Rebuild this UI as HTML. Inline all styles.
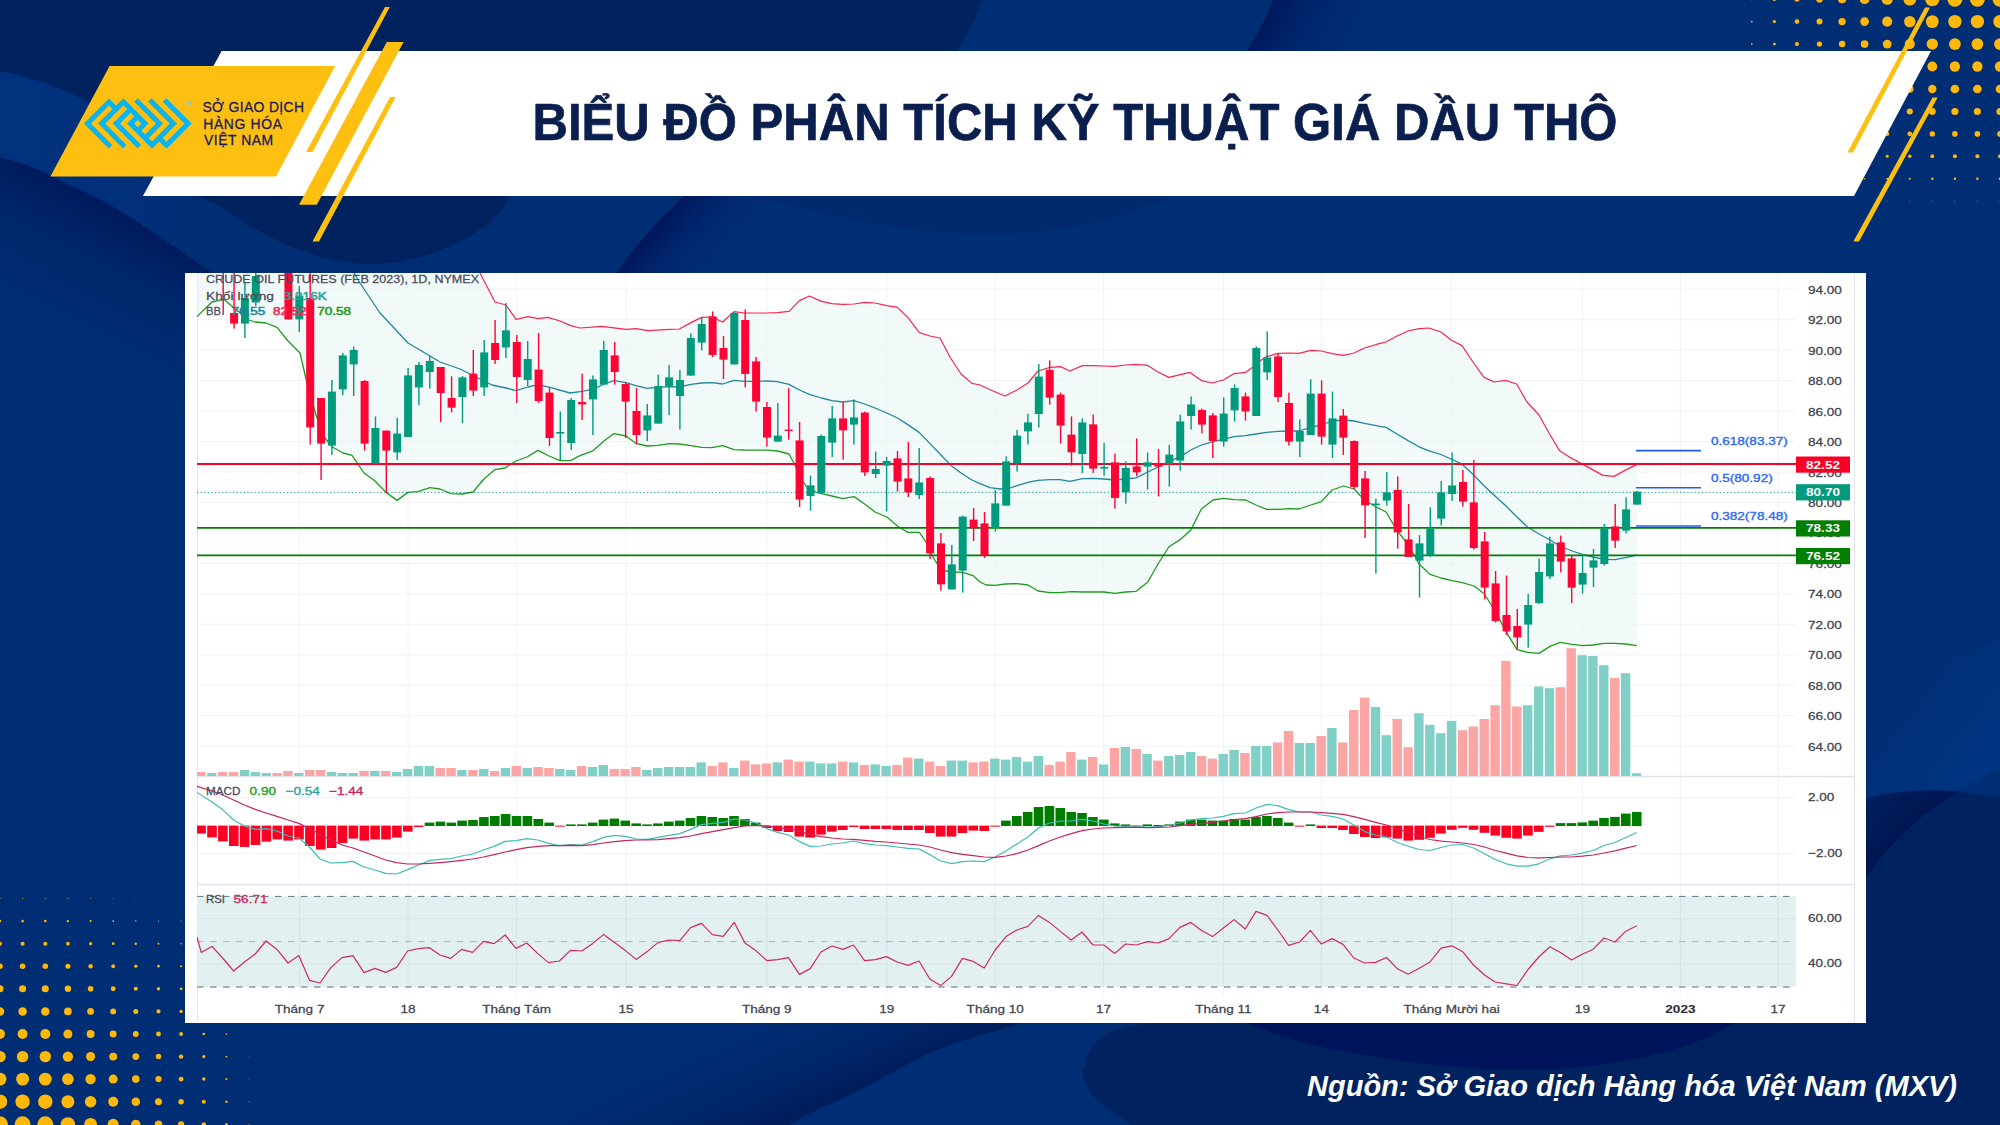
<!DOCTYPE html>
<html lang="vi"><head><meta charset="utf-8"><title>Biểu đồ phân tích kỹ thuật giá dầu thô</title>
<style>html,body{margin:0;padding:0;background:#002e74;}body{width:2000px;height:1125px;overflow:hidden;position:relative;}svg{display:block;position:absolute;left:0;top:0;}text{white-space:pre;}</style>
</head><body>
<svg width="2000" height="1125" viewBox="0 0 2000 1125">
<defs>
<linearGradient id="gwA" gradientUnits="userSpaceOnUse" x1="0" y1="0" x2="210" y2="0"><stop offset="0" stop-color="#00327e"/><stop offset="0.55" stop-color="#00307a"/><stop offset="1" stop-color="#002e74"/></linearGradient>
<linearGradient id="gwB" gradientUnits="userSpaceOnUse" x1="107" y1="203" x2="35" y2="340"><stop offset="0" stop-color="#001a5d"/><stop offset="0.4" stop-color="#002468" stop-opacity="0.7"/><stop offset="1" stop-color="#002e74" stop-opacity="0"/></linearGradient>
<linearGradient id="gwL" gradientUnits="userSpaceOnUse" x1="1880" y1="715" x2="1990" y2="800"><stop offset="0" stop-color="#002e74"/><stop offset="1" stop-color="#003684"/></linearGradient>
<linearGradient id="gwW" gradientUnits="userSpaceOnUse" x1="1925" y1="812" x2="1880" y2="770"><stop offset="0" stop-color="#001552"/><stop offset="1" stop-color="#00215e"/></linearGradient>
<linearGradient id="gwS" gradientUnits="userSpaceOnUse" x1="905" y1="1066" x2="858" y2="958"><stop offset="0" stop-color="#001d5c"/><stop offset="0.5" stop-color="#00266a" stop-opacity="0.55"/><stop offset="1" stop-color="#002e74" stop-opacity="0"/></linearGradient>
<linearGradient id="gwT" gradientUnits="userSpaceOnUse" x1="1258" y1="26" x2="1365" y2="82"><stop offset="0" stop-color="#00175c"/><stop offset="0.35" stop-color="#00226a" stop-opacity="0.7"/><stop offset="1" stop-color="#002e74" stop-opacity="0"/></linearGradient>
<linearGradient id="gwC" gradientUnits="userSpaceOnUse" x1="650" y1="234" x2="712" y2="290"><stop offset="0" stop-color="#00175c"/><stop offset="0.35" stop-color="#00226a" stop-opacity="0.7"/><stop offset="1" stop-color="#002e74" stop-opacity="0"/></linearGradient>
<clipPath id="cpMain"><rect x="197" y="273" width="1599" height="503"/></clipPath>
<clipPath id="cpMacd"><rect x="197" y="777" width="1599" height="107"/></clipPath>
<clipPath id="cpRsi"><rect x="197" y="885" width="1599" height="110"/></clipPath>
</defs>
<rect width="2000" height="1125" fill="#002e74"/>
<path d="M0,0 H982 C976,18 968,35 956,52 L940,80 L905,196 L509,196 C502,212 492,222 480,229.6 C465,240 455,244 448,247 C435,253 425,256 416,258 C405,261 395,263 384,263 C372,264 362,264 352,263 C340,261 330,259 320,256.8 C308,253 298,250 288,245.6 C276,240 266,235 256,229.6 C244,223 234,216 224,209 C214,203 205,199 198,196 C180,170 140,130 87,101 C60,88 30,76 0,71.5 Z" fill="#00235f"/>
<path d="M0,71.5 C30,76 60,88 87,101 C140,130 180,170 198,196 L260,300 L235,290 C224,281 212,272 200,264 C188,256 175,247 160,237 C144,226 126,214 107,203 C90,194 72,186 53,176.7 C38,169 20,162 0,157.6 Z" fill="url(#gwA)"/>
<path d="M0,157.6 C20,162 38,169 53,176.7 C72,186 90,194 107,203 C126,214 144,226 160,237 C175,247 188,256 200,264 C212,272 224,281 235,290 L260,310 L260,460 L0,460 Z" fill="url(#gwB)"/>
<path d="M760,196 C850,225 950,236 1000,234 C1080,232 1130,215 1170,196 Z" fill="#002566" opacity="0.45"/>
<path d="M616,273 C636,245 658,220 684,196 L840,196 L840,273 Z" fill="url(#gwC)"/>
<path d="M1246,52 C1258,34 1267,17 1273,0 L1420,0 L1420,52 Z" fill="url(#gwT)"/>
<path d="M1085,1068 C1086,1048 1100,1033 1125,1027 C1150,1022 1180,1021 1210,1018 L1866,1015 L1866,798 C1900,789 1950,789 2000,797 L2000,1125 L1132,1125 C1100,1105 1080,1090 1083,1066 Z" fill="#00235f"/>
<path d="M1240,1020 C1300,1050 1450,1075 1560,1069 C1650,1062 1710,1042 1738,1020 Z" fill="#00105a" opacity="0.75"/>
<path d="M2000,768 C1980,778 1965,786 1955,792.6 C1940,803 1925,814 1913,825 C1895,841 1880,858 1866,878 L1866,690 L2000,640 Z" fill="url(#gwL)"/>
<path d="M1866,798 C1895,790.5 1925,789.5 1958,791 C1940,803 1925,814 1913,825 C1895,841 1880,858 1866,878 Z" fill="url(#gwW)"/>
<path d="M790,1125 C810,1112 830,1104 850,1095 C880,1080 900,1068 925,1055 C950,1044 975,1036 1000,1030 C1010,1027 1018,1025 1030,1020 L640,1020 L560,1125 Z" fill="url(#gwS)"/>
<circle cx="2000" cy="-0.8" r="7.47" fill="#ffb70a"/>
<circle cx="2000" cy="21.6" r="6.69" fill="#ffb70a"/>
<circle cx="2000" cy="44.1" r="5.91" fill="#ffb70a"/>
<circle cx="2000" cy="66.5" r="5.14" fill="#ffb70a"/>
<circle cx="2000" cy="89" r="4.36" fill="#ffb70a"/>
<circle cx="2000" cy="111.5" r="3.58" fill="#ffb70a"/>
<circle cx="2000" cy="133.9" r="2.81" fill="#ffb70a"/>
<circle cx="2000" cy="156.3" r="2.03" fill="#ffb70a"/>
<circle cx="2000" cy="178.8" r="1.25" fill="#ffb70a"/>
<circle cx="2000" cy="201.2" r="0.48" fill="#ffb70a"/>
<circle cx="1977.4" cy="-0.8" r="7.47" fill="#ffb70a"/>
<circle cx="1977.4" cy="21.6" r="6.69" fill="#ffb70a"/>
<circle cx="1977.4" cy="44.1" r="5.91" fill="#ffb70a"/>
<circle cx="1977.4" cy="66.5" r="5.14" fill="#ffb70a"/>
<circle cx="1977.4" cy="89" r="4.36" fill="#ffb70a"/>
<circle cx="1977.4" cy="111.5" r="3.58" fill="#ffb70a"/>
<circle cx="1977.4" cy="133.9" r="2.81" fill="#ffb70a"/>
<circle cx="1977.4" cy="156.3" r="2.03" fill="#ffb70a"/>
<circle cx="1977.4" cy="178.8" r="1.25" fill="#ffb70a"/>
<circle cx="1977.4" cy="201.2" r="0.48" fill="#ffb70a"/>
<circle cx="1954.9" cy="-0.8" r="7.47" fill="#ffb70a"/>
<circle cx="1954.9" cy="21.6" r="6.69" fill="#ffb70a"/>
<circle cx="1954.9" cy="44.1" r="5.91" fill="#ffb70a"/>
<circle cx="1954.9" cy="66.5" r="5.14" fill="#ffb70a"/>
<circle cx="1954.9" cy="89" r="4.36" fill="#ffb70a"/>
<circle cx="1954.9" cy="111.5" r="3.58" fill="#ffb70a"/>
<circle cx="1954.9" cy="133.9" r="2.81" fill="#ffb70a"/>
<circle cx="1954.9" cy="156.3" r="2.03" fill="#ffb70a"/>
<circle cx="1954.9" cy="178.8" r="1.25" fill="#ffb70a"/>
<circle cx="1954.9" cy="201.2" r="0.48" fill="#ffb70a"/>
<circle cx="1932.3" cy="-0.8" r="7.14" fill="#ffb70a"/>
<circle cx="1932.3" cy="21.6" r="6.40" fill="#ffb70a"/>
<circle cx="1932.3" cy="44.1" r="5.66" fill="#ffb70a"/>
<circle cx="1932.3" cy="66.5" r="4.91" fill="#ffb70a"/>
<circle cx="1932.3" cy="89" r="4.17" fill="#ffb70a"/>
<circle cx="1932.3" cy="111.5" r="3.43" fill="#ffb70a"/>
<circle cx="1932.3" cy="133.9" r="2.68" fill="#ffb70a"/>
<circle cx="1932.3" cy="156.3" r="1.94" fill="#ffb70a"/>
<circle cx="1932.3" cy="178.8" r="1.20" fill="#ffb70a"/>
<circle cx="1932.3" cy="201.2" r="0.46" fill="#ffb70a"/>
<circle cx="1909.8" cy="-0.8" r="6.38" fill="#ffb70a"/>
<circle cx="1909.8" cy="21.6" r="5.72" fill="#ffb70a"/>
<circle cx="1909.8" cy="44.1" r="5.06" fill="#ffb70a"/>
<circle cx="1909.8" cy="66.5" r="4.39" fill="#ffb70a"/>
<circle cx="1909.8" cy="89" r="3.73" fill="#ffb70a"/>
<circle cx="1909.8" cy="111.5" r="3.06" fill="#ffb70a"/>
<circle cx="1909.8" cy="133.9" r="2.40" fill="#ffb70a"/>
<circle cx="1909.8" cy="156.3" r="1.73" fill="#ffb70a"/>
<circle cx="1909.8" cy="178.8" r="1.07" fill="#ffb70a"/>
<circle cx="1909.8" cy="201.2" r="0.41" fill="#ffb70a"/>
<circle cx="1887.2" cy="-0.8" r="5.62" fill="#ffb70a"/>
<circle cx="1887.2" cy="21.6" r="5.04" fill="#ffb70a"/>
<circle cx="1887.2" cy="44.1" r="4.45" fill="#ffb70a"/>
<circle cx="1887.2" cy="66.5" r="3.87" fill="#ffb70a"/>
<circle cx="1887.2" cy="89" r="3.28" fill="#ffb70a"/>
<circle cx="1887.2" cy="111.5" r="2.70" fill="#ffb70a"/>
<circle cx="1887.2" cy="133.9" r="2.11" fill="#ffb70a"/>
<circle cx="1887.2" cy="156.3" r="1.53" fill="#ffb70a"/>
<circle cx="1887.2" cy="178.8" r="0.94" fill="#ffb70a"/>
<circle cx="1887.2" cy="201.2" r="0.36" fill="#ffb70a"/>
<circle cx="1864.6" cy="-0.8" r="4.87" fill="#ffb70a"/>
<circle cx="1864.6" cy="21.6" r="4.36" fill="#ffb70a"/>
<circle cx="1864.6" cy="44.1" r="3.85" fill="#ffb70a"/>
<circle cx="1864.6" cy="66.5" r="3.35" fill="#ffb70a"/>
<circle cx="1864.6" cy="89" r="2.84" fill="#ffb70a"/>
<circle cx="1864.6" cy="111.5" r="2.33" fill="#ffb70a"/>
<circle cx="1864.6" cy="133.9" r="1.83" fill="#ffb70a"/>
<circle cx="1864.6" cy="156.3" r="1.32" fill="#ffb70a"/>
<circle cx="1864.6" cy="178.8" r="0.82" fill="#ffb70a"/>
<circle cx="1842.1" cy="-0.8" r="4.11" fill="#ffb70a"/>
<circle cx="1842.1" cy="21.6" r="3.68" fill="#ffb70a"/>
<circle cx="1842.1" cy="44.1" r="3.25" fill="#ffb70a"/>
<circle cx="1842.1" cy="66.5" r="2.82" fill="#ffb70a"/>
<circle cx="1842.1" cy="89" r="2.40" fill="#ffb70a"/>
<circle cx="1842.1" cy="111.5" r="1.97" fill="#ffb70a"/>
<circle cx="1842.1" cy="133.9" r="1.54" fill="#ffb70a"/>
<circle cx="1842.1" cy="156.3" r="1.12" fill="#ffb70a"/>
<circle cx="1842.1" cy="178.8" r="0.69" fill="#ffb70a"/>
<circle cx="1819.5" cy="-0.8" r="3.35" fill="#ffb70a"/>
<circle cx="1819.5" cy="21.6" r="3.00" fill="#ffb70a"/>
<circle cx="1819.5" cy="44.1" r="2.65" fill="#ffb70a"/>
<circle cx="1819.5" cy="66.5" r="2.30" fill="#ffb70a"/>
<circle cx="1819.5" cy="89" r="1.95" fill="#ffb70a"/>
<circle cx="1819.5" cy="111.5" r="1.61" fill="#ffb70a"/>
<circle cx="1819.5" cy="133.9" r="1.26" fill="#ffb70a"/>
<circle cx="1819.5" cy="156.3" r="0.91" fill="#ffb70a"/>
<circle cx="1819.5" cy="178.8" r="0.56" fill="#ffb70a"/>
<circle cx="1797" cy="-0.8" r="2.59" fill="#ffb70a"/>
<circle cx="1797" cy="21.6" r="2.32" fill="#ffb70a"/>
<circle cx="1797" cy="44.1" r="2.05" fill="#ffb70a"/>
<circle cx="1797" cy="66.5" r="1.78" fill="#ffb70a"/>
<circle cx="1797" cy="89" r="1.51" fill="#ffb70a"/>
<circle cx="1797" cy="111.5" r="1.24" fill="#ffb70a"/>
<circle cx="1797" cy="133.9" r="0.97" fill="#ffb70a"/>
<circle cx="1797" cy="156.3" r="0.70" fill="#ffb70a"/>
<circle cx="1797" cy="178.8" r="0.43" fill="#ffb70a"/>
<circle cx="1774.4" cy="-0.8" r="1.83" fill="#ffb70a"/>
<circle cx="1774.4" cy="21.6" r="1.64" fill="#ffb70a"/>
<circle cx="1774.4" cy="44.1" r="1.45" fill="#ffb70a"/>
<circle cx="1774.4" cy="66.5" r="1.26" fill="#ffb70a"/>
<circle cx="1774.4" cy="89" r="1.07" fill="#ffb70a"/>
<circle cx="1774.4" cy="111.5" r="0.88" fill="#ffb70a"/>
<circle cx="1774.4" cy="133.9" r="0.69" fill="#ffb70a"/>
<circle cx="1774.4" cy="156.3" r="0.50" fill="#ffb70a"/>
<circle cx="1751.8" cy="-0.8" r="1.07" fill="#ffb70a"/>
<circle cx="1751.8" cy="21.6" r="0.96" fill="#ffb70a"/>
<circle cx="1751.8" cy="44.1" r="0.85" fill="#ffb70a"/>
<circle cx="1751.8" cy="66.5" r="0.74" fill="#ffb70a"/>
<circle cx="1751.8" cy="89" r="0.63" fill="#ffb70a"/>
<circle cx="1751.8" cy="111.5" r="0.51" fill="#ffb70a"/>
<circle cx="1751.8" cy="133.9" r="0.40" fill="#ffb70a"/>
<circle cx="0" cy="1124.3" r="7.93" fill="#ffb70a"/>
<circle cx="0" cy="1101.7" r="7.19" fill="#ffb70a"/>
<circle cx="0" cy="1079.1" r="6.46" fill="#ffb70a"/>
<circle cx="0" cy="1056.6" r="5.72" fill="#ffb70a"/>
<circle cx="0" cy="1034" r="4.99" fill="#ffb70a"/>
<circle cx="0" cy="1011.4" r="4.25" fill="#ffb70a"/>
<circle cx="0" cy="988.8" r="3.52" fill="#ffb70a"/>
<circle cx="0" cy="966.2" r="2.78" fill="#ffb70a"/>
<circle cx="0" cy="943.7" r="2.05" fill="#ffb70a"/>
<circle cx="0" cy="921.1" r="1.31" fill="#ffb70a"/>
<circle cx="0" cy="898.5" r="0.58" fill="#ffb70a"/>
<circle cx="22.6" cy="1124.3" r="7.93" fill="#ffb70a"/>
<circle cx="22.6" cy="1101.7" r="7.19" fill="#ffb70a"/>
<circle cx="22.6" cy="1079.1" r="6.46" fill="#ffb70a"/>
<circle cx="22.6" cy="1056.6" r="5.72" fill="#ffb70a"/>
<circle cx="22.6" cy="1034" r="4.99" fill="#ffb70a"/>
<circle cx="22.6" cy="1011.4" r="4.25" fill="#ffb70a"/>
<circle cx="22.6" cy="988.8" r="3.52" fill="#ffb70a"/>
<circle cx="22.6" cy="966.2" r="2.78" fill="#ffb70a"/>
<circle cx="22.6" cy="943.7" r="2.05" fill="#ffb70a"/>
<circle cx="22.6" cy="921.1" r="1.31" fill="#ffb70a"/>
<circle cx="22.6" cy="898.5" r="0.58" fill="#ffb70a"/>
<circle cx="45.3" cy="1124.3" r="7.93" fill="#ffb70a"/>
<circle cx="45.3" cy="1101.7" r="7.19" fill="#ffb70a"/>
<circle cx="45.3" cy="1079.1" r="6.46" fill="#ffb70a"/>
<circle cx="45.3" cy="1056.6" r="5.72" fill="#ffb70a"/>
<circle cx="45.3" cy="1034" r="4.99" fill="#ffb70a"/>
<circle cx="45.3" cy="1011.4" r="4.25" fill="#ffb70a"/>
<circle cx="45.3" cy="988.8" r="3.52" fill="#ffb70a"/>
<circle cx="45.3" cy="966.2" r="2.78" fill="#ffb70a"/>
<circle cx="45.3" cy="943.7" r="2.05" fill="#ffb70a"/>
<circle cx="45.3" cy="921.1" r="1.31" fill="#ffb70a"/>
<circle cx="45.3" cy="898.5" r="0.58" fill="#ffb70a"/>
<circle cx="67.9" cy="1124.3" r="7.16" fill="#ffb70a"/>
<circle cx="67.9" cy="1101.7" r="6.50" fill="#ffb70a"/>
<circle cx="67.9" cy="1079.1" r="5.83" fill="#ffb70a"/>
<circle cx="67.9" cy="1056.6" r="5.17" fill="#ffb70a"/>
<circle cx="67.9" cy="1034" r="4.51" fill="#ffb70a"/>
<circle cx="67.9" cy="1011.4" r="3.84" fill="#ffb70a"/>
<circle cx="67.9" cy="988.8" r="3.18" fill="#ffb70a"/>
<circle cx="67.9" cy="966.2" r="2.51" fill="#ffb70a"/>
<circle cx="67.9" cy="943.7" r="1.85" fill="#ffb70a"/>
<circle cx="67.9" cy="921.1" r="1.19" fill="#ffb70a"/>
<circle cx="67.9" cy="898.5" r="0.52" fill="#ffb70a"/>
<circle cx="90.6" cy="1124.3" r="6.33" fill="#ffb70a"/>
<circle cx="90.6" cy="1101.7" r="5.74" fill="#ffb70a"/>
<circle cx="90.6" cy="1079.1" r="5.16" fill="#ffb70a"/>
<circle cx="90.6" cy="1056.6" r="4.57" fill="#ffb70a"/>
<circle cx="90.6" cy="1034" r="3.98" fill="#ffb70a"/>
<circle cx="90.6" cy="1011.4" r="3.40" fill="#ffb70a"/>
<circle cx="90.6" cy="988.8" r="2.81" fill="#ffb70a"/>
<circle cx="90.6" cy="966.2" r="2.22" fill="#ffb70a"/>
<circle cx="90.6" cy="943.7" r="1.64" fill="#ffb70a"/>
<circle cx="90.6" cy="921.1" r="1.05" fill="#ffb70a"/>
<circle cx="90.6" cy="898.5" r="0.46" fill="#ffb70a"/>
<circle cx="113.2" cy="1124.3" r="5.50" fill="#ffb70a"/>
<circle cx="113.2" cy="1101.7" r="4.99" fill="#ffb70a"/>
<circle cx="113.2" cy="1079.1" r="4.48" fill="#ffb70a"/>
<circle cx="113.2" cy="1056.6" r="3.97" fill="#ffb70a"/>
<circle cx="113.2" cy="1034" r="3.46" fill="#ffb70a"/>
<circle cx="113.2" cy="1011.4" r="2.95" fill="#ffb70a"/>
<circle cx="113.2" cy="988.8" r="2.44" fill="#ffb70a"/>
<circle cx="113.2" cy="966.2" r="1.93" fill="#ffb70a"/>
<circle cx="113.2" cy="943.7" r="1.42" fill="#ffb70a"/>
<circle cx="113.2" cy="921.1" r="0.91" fill="#ffb70a"/>
<circle cx="113.2" cy="898.5" r="0.40" fill="#ffb70a"/>
<circle cx="135.8" cy="1124.3" r="4.67" fill="#ffb70a"/>
<circle cx="135.8" cy="1101.7" r="4.24" fill="#ffb70a"/>
<circle cx="135.8" cy="1079.1" r="3.80" fill="#ffb70a"/>
<circle cx="135.8" cy="1056.6" r="3.37" fill="#ffb70a"/>
<circle cx="135.8" cy="1034" r="2.94" fill="#ffb70a"/>
<circle cx="135.8" cy="1011.4" r="2.50" fill="#ffb70a"/>
<circle cx="135.8" cy="988.8" r="2.07" fill="#ffb70a"/>
<circle cx="135.8" cy="966.2" r="1.64" fill="#ffb70a"/>
<circle cx="135.8" cy="943.7" r="1.21" fill="#ffb70a"/>
<circle cx="135.8" cy="921.1" r="0.77" fill="#ffb70a"/>
<circle cx="135.8" cy="898.5" r="0.34" fill="#ffb70a"/>
<circle cx="158.5" cy="1124.3" r="3.84" fill="#ffb70a"/>
<circle cx="158.5" cy="1101.7" r="3.48" fill="#ffb70a"/>
<circle cx="158.5" cy="1079.1" r="3.13" fill="#ffb70a"/>
<circle cx="158.5" cy="1056.6" r="2.77" fill="#ffb70a"/>
<circle cx="158.5" cy="1034" r="2.41" fill="#ffb70a"/>
<circle cx="158.5" cy="1011.4" r="2.06" fill="#ffb70a"/>
<circle cx="158.5" cy="988.8" r="1.70" fill="#ffb70a"/>
<circle cx="158.5" cy="966.2" r="1.35" fill="#ffb70a"/>
<circle cx="158.5" cy="943.7" r="0.99" fill="#ffb70a"/>
<circle cx="158.5" cy="921.1" r="0.64" fill="#ffb70a"/>
<circle cx="181.1" cy="1124.3" r="3.01" fill="#ffb70a"/>
<circle cx="181.1" cy="1101.7" r="2.73" fill="#ffb70a"/>
<circle cx="181.1" cy="1079.1" r="2.45" fill="#ffb70a"/>
<circle cx="181.1" cy="1056.6" r="2.17" fill="#ffb70a"/>
<circle cx="181.1" cy="1034" r="1.89" fill="#ffb70a"/>
<circle cx="181.1" cy="1011.4" r="1.61" fill="#ffb70a"/>
<circle cx="181.1" cy="988.8" r="1.33" fill="#ffb70a"/>
<circle cx="181.1" cy="966.2" r="1.06" fill="#ffb70a"/>
<circle cx="181.1" cy="943.7" r="0.78" fill="#ffb70a"/>
<circle cx="181.1" cy="921.1" r="0.50" fill="#ffb70a"/>
<circle cx="203.8" cy="1124.3" r="2.17" fill="#ffb70a"/>
<circle cx="203.8" cy="1101.7" r="1.97" fill="#ffb70a"/>
<circle cx="203.8" cy="1079.1" r="1.77" fill="#ffb70a"/>
<circle cx="203.8" cy="1056.6" r="1.57" fill="#ffb70a"/>
<circle cx="203.8" cy="1034" r="1.37" fill="#ffb70a"/>
<circle cx="203.8" cy="1011.4" r="1.17" fill="#ffb70a"/>
<circle cx="203.8" cy="988.8" r="0.97" fill="#ffb70a"/>
<circle cx="203.8" cy="966.2" r="0.76" fill="#ffb70a"/>
<circle cx="203.8" cy="943.7" r="0.56" fill="#ffb70a"/>
<circle cx="203.8" cy="921.1" r="0.36" fill="#ffb70a"/>
<circle cx="226.4" cy="1124.3" r="1.34" fill="#ffb70a"/>
<circle cx="226.4" cy="1101.7" r="1.22" fill="#ffb70a"/>
<circle cx="226.4" cy="1079.1" r="1.09" fill="#ffb70a"/>
<circle cx="226.4" cy="1056.6" r="0.97" fill="#ffb70a"/>
<circle cx="226.4" cy="1034" r="0.85" fill="#ffb70a"/>
<circle cx="226.4" cy="1011.4" r="0.72" fill="#ffb70a"/>
<circle cx="226.4" cy="988.8" r="0.60" fill="#ffb70a"/>
<circle cx="226.4" cy="966.2" r="0.47" fill="#ffb70a"/>
<circle cx="226.4" cy="943.7" r="0.35" fill="#ffb70a"/>
<circle cx="249" cy="1124.3" r="0.51" fill="#ffb70a"/>
<circle cx="249" cy="1101.7" r="0.47" fill="#ffb70a"/>
<circle cx="249" cy="1079.1" r="0.42" fill="#ffb70a"/>
<circle cx="249" cy="1056.6" r="0.37" fill="#ffb70a"/>
<polygon points="221.6,51 1931,51 1854,196 143,196" fill="#ffffff"/>
<polygon points="109.6,66 335.2,66 276,176.4 50.4,176.4" fill="#fdc010"/>
<polygon points="385,7 389.8,7 312.5,152 306,152" fill="#fdc010"/>
<polygon points="386.8,42 403.6,42 316.8,204.8 299,204.8" fill="#fdc010"/>
<polygon points="390,97 395.6,97 319,241.5 312.5,241.5" fill="#fdc010"/>
<polygon points="1925,7.5 1930,7.5 1853,152.5 1847.4,152.5" fill="#fdc010"/>
<polygon points="1932.5,97.5 1937.6,97.5 1859,241.5 1853.4,241.5" fill="#fdc010"/>
<g transform="translate(76,90) scale(0.06223)" fill="none" stroke="#0ab4f0" stroke-width="81" stroke-linecap="butt" stroke-linejoin="miter" stroke-miterlimit="10">
<path d="M554,912 L182,540 L530,192 L645,307"/>
<path d="M784,912 L412,540 L762,190 L1110,540 L994,656"/>
<path d="M1019,912 L647,540 L877,310"/>
<path d="M992,425 L877,540 L1222,885 L1567,540 L1187,160"/>
<path d="M963,160 L1343,540 L1110,773"/>
<path d="M1337,770 L1455,888 L1803,540 L1423,160"/>
</g>
<text x="185.5" y="104.5" font-family="'Liberation Sans',sans-serif" font-size="4.2" font-weight="bold" fill="#7fd0c8">TM</text>
<g font-family="'Liberation Sans',sans-serif" font-size="13.9" fill="#231a63" stroke="#231a63" stroke-width="0.3">
<text x="202.4" y="111.6" textLength="101.6" lengthAdjust="spacing">SỞ GIAO DỊCH</text><text x="203.2" y="128.8" textLength="78.8" lengthAdjust="spacing">HÀNG HÓA</text><text x="204" y="145.4" textLength="69.2" lengthAdjust="spacing">VIỆT NAM</text>
</g>
<text id="title" x="532.5" y="140.2" textLength="1085" lengthAdjust="spacingAndGlyphs" font-family="'Liberation Sans',sans-serif" font-size="52" font-weight="bold" fill="#0b1f4e" stroke="#0b1f4e" stroke-width="0.7">BIỂU ĐỒ PHÂN TÍCH KỸ THUẬT GIÁ DẦU THÔ</text>
<g id="chart">
<rect x="185" y="273" width="1681" height="750" fill="#ffffff"/>
<line x1="299.6" y1="273" x2="299.6" y2="995.5" stroke="#f0f2f5" stroke-width="1"/>
<line x1="408" y1="273" x2="408" y2="995.5" stroke="#f0f2f5" stroke-width="1"/>
<line x1="516.6" y1="273" x2="516.6" y2="995.5" stroke="#f0f2f5" stroke-width="1"/>
<line x1="626" y1="273" x2="626" y2="995.5" stroke="#f0f2f5" stroke-width="1"/>
<line x1="766.8" y1="273" x2="766.8" y2="995.5" stroke="#f0f2f5" stroke-width="1"/>
<line x1="886.8" y1="273" x2="886.8" y2="995.5" stroke="#f0f2f5" stroke-width="1"/>
<line x1="995.2" y1="273" x2="995.2" y2="995.5" stroke="#f0f2f5" stroke-width="1"/>
<line x1="1103.6" y1="273" x2="1103.6" y2="995.5" stroke="#f0f2f5" stroke-width="1"/>
<line x1="1223.4" y1="273" x2="1223.4" y2="995.5" stroke="#f0f2f5" stroke-width="1"/>
<line x1="1321.4" y1="273" x2="1321.4" y2="995.5" stroke="#f0f2f5" stroke-width="1"/>
<line x1="1451.6" y1="273" x2="1451.6" y2="995.5" stroke="#f0f2f5" stroke-width="1"/>
<line x1="1582.4" y1="273" x2="1582.4" y2="995.5" stroke="#f0f2f5" stroke-width="1"/>
<line x1="1680.4" y1="273" x2="1680.4" y2="995.5" stroke="#f0f2f5" stroke-width="1"/>
<line x1="1778" y1="273" x2="1778" y2="995.5" stroke="#f0f2f5" stroke-width="1"/>
<line x1="197" y1="746.2" x2="1796" y2="746.2" stroke="#f0f2f5" stroke-width="1"/>
<line x1="197" y1="715.7" x2="1796" y2="715.7" stroke="#f0f2f5" stroke-width="1"/>
<line x1="197" y1="685.3" x2="1796" y2="685.3" stroke="#f0f2f5" stroke-width="1"/>
<line x1="197" y1="654.8" x2="1796" y2="654.8" stroke="#f0f2f5" stroke-width="1"/>
<line x1="197" y1="624.3" x2="1796" y2="624.3" stroke="#f0f2f5" stroke-width="1"/>
<line x1="197" y1="593.9" x2="1796" y2="593.9" stroke="#f0f2f5" stroke-width="1"/>
<line x1="197" y1="563.4" x2="1796" y2="563.4" stroke="#f0f2f5" stroke-width="1"/>
<line x1="197" y1="532.9" x2="1796" y2="532.9" stroke="#f0f2f5" stroke-width="1"/>
<line x1="197" y1="502.5" x2="1796" y2="502.5" stroke="#f0f2f5" stroke-width="1"/>
<line x1="197" y1="472" x2="1796" y2="472" stroke="#f0f2f5" stroke-width="1"/>
<line x1="197" y1="441.5" x2="1796" y2="441.5" stroke="#f0f2f5" stroke-width="1"/>
<line x1="197" y1="411.1" x2="1796" y2="411.1" stroke="#f0f2f5" stroke-width="1"/>
<line x1="197" y1="380.6" x2="1796" y2="380.6" stroke="#f0f2f5" stroke-width="1"/>
<line x1="197" y1="350.1" x2="1796" y2="350.1" stroke="#f0f2f5" stroke-width="1"/>
<line x1="197" y1="319.7" x2="1796" y2="319.7" stroke="#f0f2f5" stroke-width="1"/>
<line x1="197" y1="289.2" x2="1796" y2="289.2" stroke="#f0f2f5" stroke-width="1"/>
<line x1="197" y1="797.6" x2="1796" y2="797.6" stroke="#f0f2f5" stroke-width="1"/>
<line x1="197" y1="853.6" x2="1796" y2="853.6" stroke="#f0f2f5" stroke-width="1"/>
<line x1="197" y1="918.7" x2="1796" y2="918.7" stroke="#f0f2f5" stroke-width="1"/>
<line x1="197" y1="964" x2="1796" y2="964" stroke="#f0f2f5" stroke-width="1"/>
<line x1="197.5" y1="273" x2="197.5" y2="1022" stroke="#e3e5ee" stroke-width="1"/>
<line x1="1854.5" y1="273" x2="1854.5" y2="1022" stroke="#e3e5ee" stroke-width="1"/>
<line x1="197" y1="776.5" x2="1854" y2="776.5" stroke="#e0e3ee" stroke-width="1.4"/>
<line x1="197" y1="884.5" x2="1854" y2="884.5" stroke="#e0e3ee" stroke-width="1.4"/>
<g clip-path="url(#cpMain)">
<polygon points="197,200 470,255 480,273 495,302 506,305 516,319.4 528,316.6 538,318.6 548,317.4 560,321 570,325.4 580,328 602,326.4 626,329.4 636,328.6 648,330.6 669,329.4 679.4,329 691,322.6 701.6,317.4 712,317 722.6,322 734,311.6 744.6,313 766.8,313 777.4,312.6 789,311.4 799.4,300.6 809.4,296 821.6,301.4 832,303.6 842.6,304.4 854,304 864.6,302.4 875,303 886.8,305.6 897.4,307.4 907.8,317.4 919.4,332.6 930,336 940,338 950,357 961,374 972,383.4 980,385 993,391 1005,396 1017,390 1028,383 1038,371 1050,367.4 1060.4,366.6 1070,371 1082.4,365.6 1093,365.6 1103.6,366 1115,366.4 1125.6,365 1136,364.4 1147.8,365.4 1158,372 1168.8,377.4 1180.4,374.6 1190,372.4 1201.4,380.6 1212,383 1223.4,380 1234,373.6 1245.6,372.4 1253,367 1260,361 1266.6,356.6 1278,353.4 1288.8,353 1299,353.4 1310.8,350.4 1321.4,351 1332,353.6 1343.6,355.4 1354,353 1364.6,348 1380,343.4 1386,342 1397,336 1408,331 1419,328.6 1429,328 1441,332 1451,340 1462,345.6 1473,362 1484,377.4 1494.4,382 1505.6,380.4 1516.6,384 1527,402 1539,415 1549,433 1559.4,450.4 1570,457.4 1581,463.4 1592,469.4 1603,475.4 1614,476.4 1625,470.4 1636.8,464.4 1636.8,645.6 1625.6,644 1615,643.4 1604.4,643.4 1593,645 1582.4,645.6 1572,644.4 1560,642.4 1550,646.4 1539,653.4 1527.6,652.4 1517,649.6 1506.4,632.4 1495,611 1484.4,594 1474,586 1462.4,582.6 1452,580.6 1441,578 1430,574.4 1419,564 1408.6,545 1397.4,531 1386,512 1380,508.8 1376,507 1364.6,500 1354,489 1343.6,486 1332,490 1321.4,501.6 1310.8,505 1299,509 1288.8,508.6 1278,509.4 1266.6,509.4 1256,505 1245.6,500 1234,499.6 1223.4,498.4 1213,500 1201.4,509 1190.8,530 1180.4,539.4 1168.8,547 1158,564 1147.8,582 1136,591.4 1125.6,592 1115,593.4 1103.6,592 1093,592 1082.4,592 1071,591.6 1060,592.6 1050,592.6 1038,591 1028,585 1017,583.6 1005.6,584 995,585.4 986,585 980,582 973,575.6 962.6,572.4 952,572 946,571 940.4,568 936,562 930,552 926,542 919.4,532.4 907.8,532.4 897.4,526 886.8,517 875,512 864.6,504 854,496.6 842.6,498.6 832,496 821.6,493.6 816,492.4 810,487.6 806,486 799.4,476 795,465 789,454 777.4,451 766.8,450.2 744.6,450 734,449.6 722.6,445.6 712,447.6 701.6,447.4 691,445.6 679,444 669,443.6 658,445.4 647,446 636,443.4 626,436 614,433.6 604,441 593,450.8 580,455.6 571,460.4 560,460.6 549,456 538,450.4 527,457 516,461 505,468 495,469.6 484,479 473,492 462,494 451,493.6 440,489 430,487.6 418,491.6 408,492.4 397,500.4 386,492.4 375,481 364,473 352,455.4 343,453 332.4,447 324,437 316,415 306,379 300,353 288,341 277,327.4 266,323 255,322 249,320 234,308 224,299.4 212,302 197,316.6" fill="#e9f5f5" fill-opacity="0.62"/>
<rect x="196.2" y="772" width="9.4" height="4" fill="#fba5a5"/>
<rect x="207.1" y="773" width="9.4" height="3" fill="#80d0c7"/>
<rect x="218" y="772" width="9.4" height="4" fill="#fba5a5"/>
<rect x="228.9" y="772" width="9.4" height="4" fill="#fba5a5"/>
<rect x="239.8" y="770" width="9.4" height="6" fill="#80d0c7"/>
<rect x="250.6" y="772" width="9.4" height="4" fill="#80d0c7"/>
<rect x="261.5" y="773" width="9.4" height="3" fill="#80d0c7"/>
<rect x="272.4" y="773" width="9.4" height="3" fill="#fba5a5"/>
<rect x="283.2" y="771" width="9.4" height="5" fill="#fba5a5"/>
<rect x="294.1" y="773" width="9.4" height="3" fill="#80d0c7"/>
<rect x="305" y="770" width="9.4" height="6" fill="#fba5a5"/>
<rect x="315.9" y="770" width="9.4" height="6" fill="#fba5a5"/>
<rect x="326.8" y="772" width="9.4" height="4" fill="#80d0c7"/>
<rect x="337.6" y="773" width="9.4" height="3" fill="#80d0c7"/>
<rect x="348.5" y="773" width="9.4" height="3" fill="#80d0c7"/>
<rect x="359.4" y="771" width="9.4" height="5" fill="#fba5a5"/>
<rect x="370.2" y="771" width="9.4" height="5" fill="#80d0c7"/>
<rect x="381.1" y="771" width="9.4" height="5" fill="#fba5a5"/>
<rect x="392" y="772" width="9.4" height="4" fill="#80d0c7"/>
<rect x="402.9" y="769" width="9.4" height="7" fill="#80d0c7"/>
<rect x="413.8" y="766" width="9.4" height="10" fill="#80d0c7"/>
<rect x="424.6" y="766" width="9.4" height="10" fill="#80d0c7"/>
<rect x="435.5" y="768" width="9.4" height="8" fill="#fba5a5"/>
<rect x="446.4" y="768" width="9.4" height="8" fill="#fba5a5"/>
<rect x="457.2" y="770" width="9.4" height="6" fill="#80d0c7"/>
<rect x="468.1" y="770" width="9.4" height="6" fill="#fba5a5"/>
<rect x="479" y="769" width="9.4" height="7" fill="#80d0c7"/>
<rect x="489.9" y="771" width="9.4" height="5" fill="#fba5a5"/>
<rect x="500.8" y="768" width="9.4" height="8" fill="#80d0c7"/>
<rect x="511.6" y="766" width="9.4" height="10" fill="#fba5a5"/>
<rect x="522.5" y="768" width="9.4" height="8" fill="#80d0c7"/>
<rect x="533.4" y="767" width="9.4" height="9" fill="#fba5a5"/>
<rect x="544.2" y="768" width="9.4" height="8" fill="#fba5a5"/>
<rect x="555.1" y="769" width="9.4" height="7" fill="#80d0c7"/>
<rect x="566" y="770" width="9.4" height="6" fill="#80d0c7"/>
<rect x="576.9" y="766" width="9.4" height="10" fill="#fba5a5"/>
<rect x="587.8" y="767" width="9.4" height="9" fill="#80d0c7"/>
<rect x="598.6" y="765" width="9.4" height="11" fill="#80d0c7"/>
<rect x="609.5" y="769" width="9.4" height="7" fill="#fba5a5"/>
<rect x="620.4" y="769" width="9.4" height="7" fill="#fba5a5"/>
<rect x="631.2" y="767" width="9.4" height="9" fill="#fba5a5"/>
<rect x="642.1" y="770" width="9.4" height="6" fill="#80d0c7"/>
<rect x="653" y="768" width="9.4" height="8" fill="#80d0c7"/>
<rect x="663.9" y="767" width="9.4" height="9" fill="#80d0c7"/>
<rect x="674.8" y="767" width="9.4" height="9" fill="#80d0c7"/>
<rect x="685.6" y="767" width="9.4" height="9" fill="#80d0c7"/>
<rect x="696.5" y="762.4" width="9.4" height="13.6" fill="#80d0c7"/>
<rect x="707.4" y="766" width="9.4" height="10" fill="#fba5a5"/>
<rect x="718.2" y="762.4" width="9.4" height="13.6" fill="#fba5a5"/>
<rect x="729.1" y="768" width="9.4" height="8" fill="#80d0c7"/>
<rect x="740" y="760.6" width="9.4" height="15.4" fill="#fba5a5"/>
<rect x="750.9" y="764.4" width="9.4" height="11.6" fill="#fba5a5"/>
<rect x="761.8" y="763.4" width="9.4" height="12.6" fill="#fba5a5"/>
<rect x="772.6" y="762.4" width="9.4" height="13.6" fill="#80d0c7"/>
<rect x="783.5" y="759.6" width="9.4" height="16.4" fill="#fba5a5"/>
<rect x="794.4" y="761.6" width="9.4" height="14.4" fill="#fba5a5"/>
<rect x="805.2" y="761.6" width="9.4" height="14.4" fill="#80d0c7"/>
<rect x="816.1" y="763.4" width="9.4" height="12.6" fill="#80d0c7"/>
<rect x="827" y="763.4" width="9.4" height="12.6" fill="#80d0c7"/>
<rect x="837.9" y="761.6" width="9.4" height="14.4" fill="#fba5a5"/>
<rect x="848.8" y="762.4" width="9.4" height="13.6" fill="#80d0c7"/>
<rect x="859.6" y="765" width="9.4" height="11" fill="#fba5a5"/>
<rect x="870.5" y="764.4" width="9.4" height="11.6" fill="#80d0c7"/>
<rect x="881.4" y="766" width="9.4" height="10" fill="#80d0c7"/>
<rect x="892.2" y="765" width="9.4" height="11" fill="#fba5a5"/>
<rect x="903.1" y="757.6" width="9.4" height="18.4" fill="#fba5a5"/>
<rect x="914" y="758.6" width="9.4" height="17.4" fill="#80d0c7"/>
<rect x="924.9" y="761.6" width="9.4" height="14.4" fill="#fba5a5"/>
<rect x="935.8" y="766" width="9.4" height="10" fill="#fba5a5"/>
<rect x="946.6" y="760.6" width="9.4" height="15.4" fill="#80d0c7"/>
<rect x="957.5" y="760.6" width="9.4" height="15.4" fill="#80d0c7"/>
<rect x="968.4" y="762.4" width="9.4" height="13.6" fill="#fba5a5"/>
<rect x="979.2" y="761.6" width="9.4" height="14.4" fill="#fba5a5"/>
<rect x="990.1" y="758.6" width="9.4" height="17.4" fill="#80d0c7"/>
<rect x="1001" y="759.6" width="9.4" height="16.4" fill="#80d0c7"/>
<rect x="1011.9" y="757" width="9.4" height="19" fill="#80d0c7"/>
<rect x="1022.8" y="761.6" width="9.4" height="14.4" fill="#80d0c7"/>
<rect x="1033.6" y="756" width="9.4" height="20" fill="#80d0c7"/>
<rect x="1044.5" y="765" width="9.4" height="11" fill="#fba5a5"/>
<rect x="1055.4" y="761.6" width="9.4" height="14.4" fill="#fba5a5"/>
<rect x="1066.2" y="752" width="9.4" height="24" fill="#fba5a5"/>
<rect x="1077.1" y="759.6" width="9.4" height="16.4" fill="#80d0c7"/>
<rect x="1088" y="757" width="9.4" height="19" fill="#fba5a5"/>
<rect x="1098.9" y="764.4" width="9.4" height="11.6" fill="#80d0c7"/>
<rect x="1109.8" y="748" width="9.4" height="28" fill="#fba5a5"/>
<rect x="1120.6" y="747" width="9.4" height="29" fill="#80d0c7"/>
<rect x="1131.5" y="749" width="9.4" height="27" fill="#fba5a5"/>
<rect x="1142.4" y="754" width="9.4" height="22" fill="#80d0c7"/>
<rect x="1153.2" y="760.6" width="9.4" height="15.4" fill="#fba5a5"/>
<rect x="1164.1" y="756" width="9.4" height="20" fill="#80d0c7"/>
<rect x="1175" y="755" width="9.4" height="21" fill="#80d0c7"/>
<rect x="1185.9" y="752" width="9.4" height="24" fill="#80d0c7"/>
<rect x="1196.8" y="756" width="9.4" height="20" fill="#fba5a5"/>
<rect x="1207.6" y="758.6" width="9.4" height="17.4" fill="#fba5a5"/>
<rect x="1218.5" y="754" width="9.4" height="22" fill="#80d0c7"/>
<rect x="1229.4" y="750" width="9.4" height="26" fill="#80d0c7"/>
<rect x="1240.2" y="753" width="9.4" height="23" fill="#fba5a5"/>
<rect x="1251.1" y="746" width="9.4" height="30" fill="#80d0c7"/>
<rect x="1262" y="746" width="9.4" height="30" fill="#80d0c7"/>
<rect x="1272.9" y="742.4" width="9.4" height="33.6" fill="#fba5a5"/>
<rect x="1283.8" y="731" width="9.4" height="45" fill="#fba5a5"/>
<rect x="1294.6" y="743" width="9.4" height="33" fill="#80d0c7"/>
<rect x="1305.5" y="743" width="9.4" height="33" fill="#80d0c7"/>
<rect x="1316.4" y="736" width="9.4" height="40" fill="#fba5a5"/>
<rect x="1327.2" y="728" width="9.4" height="48" fill="#80d0c7"/>
<rect x="1338.1" y="742.4" width="9.4" height="33.6" fill="#fba5a5"/>
<rect x="1349" y="710" width="9.4" height="66" fill="#fba5a5"/>
<rect x="1359.9" y="697.6" width="9.4" height="78.4" fill="#fba5a5"/>
<rect x="1370.8" y="707" width="9.4" height="69" fill="#80d0c7"/>
<rect x="1381.6" y="735.2" width="9.4" height="40.8" fill="#80d0c7"/>
<rect x="1392.5" y="719" width="9.4" height="57" fill="#fba5a5"/>
<rect x="1403.4" y="747.2" width="9.4" height="28.8" fill="#fba5a5"/>
<rect x="1414.2" y="713.2" width="9.4" height="62.8" fill="#80d0c7"/>
<rect x="1425.1" y="724.8" width="9.4" height="51.2" fill="#80d0c7"/>
<rect x="1436" y="733.2" width="9.4" height="42.8" fill="#80d0c7"/>
<rect x="1446.9" y="720.8" width="9.4" height="55.2" fill="#80d0c7"/>
<rect x="1457.8" y="730.2" width="9.4" height="45.8" fill="#fba5a5"/>
<rect x="1468.6" y="726.5" width="9.4" height="49.5" fill="#fba5a5"/>
<rect x="1479.5" y="719" width="9.4" height="57" fill="#fba5a5"/>
<rect x="1490.4" y="705.2" width="9.4" height="70.8" fill="#fba5a5"/>
<rect x="1501.2" y="660.8" width="9.4" height="115.2" fill="#fba5a5"/>
<rect x="1512.1" y="706.5" width="9.4" height="69.5" fill="#fba5a5"/>
<rect x="1523" y="705.2" width="9.4" height="70.8" fill="#80d0c7"/>
<rect x="1533.9" y="686.5" width="9.4" height="89.5" fill="#80d0c7"/>
<rect x="1544.8" y="688.2" width="9.4" height="87.8" fill="#80d0c7"/>
<rect x="1555.6" y="687.2" width="9.4" height="88.8" fill="#fba5a5"/>
<rect x="1566.5" y="648.2" width="9.4" height="127.8" fill="#fba5a5"/>
<rect x="1577.4" y="655.2" width="9.4" height="120.8" fill="#80d0c7"/>
<rect x="1588.2" y="656" width="9.4" height="120" fill="#80d0c7"/>
<rect x="1599.1" y="665.2" width="9.4" height="110.8" fill="#80d0c7"/>
<rect x="1610" y="677.8" width="9.4" height="98.2" fill="#fba5a5"/>
<rect x="1620.9" y="673.2" width="9.4" height="102.8" fill="#80d0c7"/>
<rect x="1631.8" y="773.2" width="9.4" height="2.8" fill="#80d0c7"/>
<polyline points="197,200 470,255 480,273 495,302 506,305 516,319.4 528,316.6 538,318.6 548,317.4 560,321 570,325.4 580,328 602,326.4 626,329.4 636,328.6 648,330.6 669,329.4 679.4,329 691,322.6 701.6,317.4 712,317 722.6,322 734,311.6 744.6,313 766.8,313 777.4,312.6 789,311.4 799.4,300.6 809.4,296 821.6,301.4 832,303.6 842.6,304.4 854,304 864.6,302.4 875,303 886.8,305.6 897.4,307.4 907.8,317.4 919.4,332.6 930,336 940,338 950,357 961,374 972,383.4 980,385 993,391 1005,396 1017,390 1028,383 1038,371 1050,367.4 1060.4,366.6 1070,371 1082.4,365.6 1093,365.6 1103.6,366 1115,366.4 1125.6,365 1136,364.4 1147.8,365.4 1158,372 1168.8,377.4 1180.4,374.6 1190,372.4 1201.4,380.6 1212,383 1223.4,380 1234,373.6 1245.6,372.4 1253,367 1260,361 1266.6,356.6 1278,353.4 1288.8,353 1299,353.4 1310.8,350.4 1321.4,351 1332,353.6 1343.6,355.4 1354,353 1364.6,348 1380,343.4 1386,342 1397,336 1408,331 1419,328.6 1429,328 1441,332 1451,340 1462,345.6 1473,362 1484,377.4 1494.4,382 1505.6,380.4 1516.6,384 1527,402 1539,415 1549,433 1559.4,450.4 1570,457.4 1581,463.4 1592,469.4 1603,475.4 1614,476.4 1625,470.4 1636.8,464.4" fill="none" stroke="#f4274f" stroke-width="1.2" stroke-linejoin="round"/>
<polyline points="197,215 300,235 354,273 360,283 380,313 408,343 430,356 440,362 460,369 470,374 480,379 492,385 506,388 516,390.6 528,387 538,384.6 550,387.4 570,393 580,391.6 593,389.4 604,384 614,380.6 626,382.6 636,385.6 647,388.4 658,387.4 669,386.6 679,387 691,384.4 701.6,383 712,382.6 722.6,384 734,380.4 744.6,381.4 756,381.4 766.8,381 777.4,381.6 789,384.4 799.4,390 810,394.6 821.6,398 832,400.6 842.6,402 854,400.6 864.6,404 875,408 886.8,413 897.4,418 907.8,424.6 919.4,432.6 930,443.6 940,454 951,465.4 961,473 972,480 980,483.6 990,487.6 1000,489 1010,488 1017,485.6 1028,482.4 1038,480.4 1050,479.6 1060,479.6 1070,481.4 1082.4,478.6 1093,478.4 1103.6,479 1115,480 1125.6,479 1136,477.8 1147.8,472 1158,467 1168.8,461.6 1180.4,456.6 1190.8,450 1201.4,445 1213,441.6 1223.4,439.4 1234,436.6 1245.6,435.6 1256,434 1266.6,432.4 1278,431.4 1288.8,431 1299,431 1310.8,427.4 1321.4,425 1332,421 1343.6,420 1354,421 1364.6,423.4 1380,426.3 1386,427.4 1397,434 1408,440.6 1419,446.8 1429,450.8 1441,454.5 1451,459 1462,464.2 1473,474.2 1484,485.8 1495,496 1506,506 1517,517 1527.6,527 1539,534 1550,540 1560,546 1572,551 1582.4,554.4 1593,557 1604.4,559.4 1615,559.6 1625.6,557.6 1636.8,555" fill="none" stroke="#22869c" stroke-width="1.3" stroke-linejoin="round"/>
<polyline points="197,316.6 212,302 224,299.4 234,308 249,320 255,322 266,323 277,327.4 288,341 300,353 306,379 316,415 324,437 332.4,447 343,453 352,455.4 364,473 375,481 386,492.4 397,500.4 408,492.4 418,491.6 430,487.6 440,489 451,493.6 462,494 473,492 484,479 495,469.6 505,468 516,461 527,457 538,450.4 549,456 560,460.6 571,460.4 580,455.6 593,450.8 604,441 614,433.6 626,436 636,443.4 647,446 658,445.4 669,443.6 679,444 691,445.6 701.6,447.4 712,447.6 722.6,445.6 734,449.6 744.6,450 766.8,450.2 777.4,451 789,454 795,465 799.4,476 806,486 810,487.6 816,492.4 821.6,493.6 832,496 842.6,498.6 854,496.6 864.6,504 875,512 886.8,517 897.4,526 907.8,532.4 919.4,532.4 926,542 930,552 936,562 940.4,568 946,571 952,572 962.6,572.4 973,575.6 980,582 986,585 995,585.4 1005.6,584 1017,583.6 1028,585 1038,591 1050,592.6 1060,592.6 1071,591.6 1082.4,592 1093,592 1103.6,592 1115,593.4 1125.6,592 1136,591.4 1147.8,582 1158,564 1168.8,547 1180.4,539.4 1190.8,530 1201.4,509 1213,500 1223.4,498.4 1234,499.6 1245.6,500 1256,505 1266.6,509.4 1278,509.4 1288.8,508.6 1299,509 1310.8,505 1321.4,501.6 1332,490 1343.6,486 1354,489 1364.6,500 1376,507 1380,508.8 1386,512 1397.4,531 1408.6,545 1419,564 1430,574.4 1441,578 1452,580.6 1462.4,582.6 1474,586 1484.4,594 1495,611 1506.4,632.4 1517,649.6 1527.6,652.4 1539,653.4 1550,646.4 1560,642.4 1572,644.4 1582.4,645.6 1593,645 1604.4,643.4 1615,643.4 1625.6,644 1636.8,645.6" fill="none" stroke="#1f9c1f" stroke-width="1.3" stroke-linejoin="round"/>
<line x1="197" y1="492.4" x2="1796" y2="492.4" stroke="#089a80" stroke-width="1" stroke-dasharray="1.2 2.4"/>
<line x1="197" y1="464" x2="1796" y2="464" stroke="#fb0027" stroke-width="2"/>
<line x1="197" y1="527.8" x2="1796" y2="527.8" stroke="#007f00" stroke-width="1.8"/>
<line x1="197" y1="555.4" x2="1796" y2="555.4" stroke="#007f00" stroke-width="1.8"/>
<rect x="222.5" y="260" width="1.4" height="55" fill="#ff0335"/>
<rect x="219.2" y="260" width="8" height="12" fill="#ff0335"/>
<rect x="233.4" y="260" width="1.4" height="68.6" fill="#ff0335"/>
<rect x="230.1" y="313" width="8" height="10.6" fill="#ff0335"/>
<rect x="244.2" y="282" width="1.4" height="56" fill="#009a7c"/>
<rect x="240.9" y="298" width="8" height="25.6" fill="#009a7c"/>
<rect x="255.1" y="260" width="1.4" height="46" fill="#009a7c"/>
<rect x="251.8" y="276" width="8" height="26.4" fill="#009a7c"/>
<rect x="287.8" y="260" width="1.4" height="59.4" fill="#ff0335"/>
<rect x="284.4" y="260" width="8" height="59.4" fill="#ff0335"/>
<rect x="298.6" y="286" width="1.4" height="46" fill="#009a7c"/>
<rect x="295.3" y="296" width="8" height="23.4" fill="#009a7c"/>
<rect x="309.5" y="260" width="1.4" height="184.6" fill="#ff0335"/>
<rect x="306.2" y="298" width="8" height="129.4" fill="#ff0335"/>
<rect x="320.4" y="398" width="1.4" height="82" fill="#ff0335"/>
<rect x="317.1" y="398" width="8" height="45.6" fill="#ff0335"/>
<rect x="331.2" y="380" width="1.4" height="75" fill="#009a7c"/>
<rect x="327.9" y="391.6" width="8" height="54" fill="#009a7c"/>
<rect x="342.1" y="353" width="1.4" height="42" fill="#009a7c"/>
<rect x="338.8" y="355.4" width="8" height="34" fill="#009a7c"/>
<rect x="353" y="346.6" width="1.4" height="49.4" fill="#009a7c"/>
<rect x="349.7" y="350" width="8" height="14.4" fill="#009a7c"/>
<rect x="363.9" y="380" width="1.4" height="70.6" fill="#ff0335"/>
<rect x="360.6" y="381" width="8" height="62.6" fill="#ff0335"/>
<rect x="374.8" y="416.4" width="1.4" height="47.2" fill="#009a7c"/>
<rect x="371.4" y="428" width="8" height="35.6" fill="#009a7c"/>
<rect x="385.6" y="430.6" width="1.4" height="62.4" fill="#ff0335"/>
<rect x="382.3" y="430.6" width="8" height="20" fill="#ff0335"/>
<rect x="396.5" y="418" width="1.4" height="42" fill="#009a7c"/>
<rect x="393.2" y="433.6" width="8" height="18.8" fill="#009a7c"/>
<rect x="407.4" y="368" width="1.4" height="69" fill="#009a7c"/>
<rect x="404.1" y="375.4" width="8" height="61.6" fill="#009a7c"/>
<rect x="418.2" y="362" width="1.4" height="43" fill="#009a7c"/>
<rect x="414.9" y="365" width="8" height="22.4" fill="#009a7c"/>
<rect x="429.1" y="356" width="1.4" height="32.6" fill="#009a7c"/>
<rect x="425.8" y="361" width="8" height="11" fill="#009a7c"/>
<rect x="440" y="367" width="1.4" height="55" fill="#ff0335"/>
<rect x="436.7" y="367" width="8" height="26" fill="#ff0335"/>
<rect x="450.9" y="376.4" width="1.4" height="36" fill="#ff0335"/>
<rect x="447.6" y="398" width="8" height="9.6" fill="#ff0335"/>
<rect x="461.8" y="376" width="1.4" height="47" fill="#009a7c"/>
<rect x="458.4" y="377.4" width="8" height="19.6" fill="#009a7c"/>
<rect x="472.6" y="350" width="1.4" height="46" fill="#ff0335"/>
<rect x="469.3" y="373.6" width="8" height="17" fill="#ff0335"/>
<rect x="483.5" y="340" width="1.4" height="56" fill="#009a7c"/>
<rect x="480.2" y="352.4" width="8" height="35" fill="#009a7c"/>
<rect x="494.4" y="320" width="1.4" height="44" fill="#ff0335"/>
<rect x="491.1" y="343" width="8" height="17" fill="#ff0335"/>
<rect x="505.2" y="303" width="1.4" height="55" fill="#009a7c"/>
<rect x="501.9" y="330.4" width="8" height="17" fill="#009a7c"/>
<rect x="516.1" y="335" width="1.4" height="68" fill="#ff0335"/>
<rect x="512.8" y="342" width="8" height="35" fill="#ff0335"/>
<rect x="527" y="341" width="1.4" height="45" fill="#009a7c"/>
<rect x="523.7" y="359" width="8" height="21" fill="#009a7c"/>
<rect x="537.9" y="333" width="1.4" height="70" fill="#ff0335"/>
<rect x="534.6" y="369.6" width="8" height="31.4" fill="#ff0335"/>
<rect x="548.8" y="388" width="1.4" height="58" fill="#ff0335"/>
<rect x="545.5" y="392.6" width="8" height="45.4" fill="#ff0335"/>
<rect x="559.6" y="411.6" width="1.4" height="48.4" fill="#009a7c"/>
<rect x="556.3" y="432" width="8" height="1.6" fill="#009a7c"/>
<rect x="570.5" y="398" width="1.4" height="52" fill="#009a7c"/>
<rect x="567.2" y="400" width="8" height="43" fill="#009a7c"/>
<rect x="581.4" y="373.6" width="1.4" height="46.4" fill="#ff0335"/>
<rect x="578.1" y="402" width="8" height="2.4" fill="#ff0335"/>
<rect x="592.2" y="375.4" width="1.4" height="59.6" fill="#009a7c"/>
<rect x="589" y="379.4" width="8" height="20" fill="#009a7c"/>
<rect x="603.1" y="341" width="1.4" height="43.6" fill="#009a7c"/>
<rect x="599.8" y="350" width="8" height="34.6" fill="#009a7c"/>
<rect x="614" y="342" width="1.4" height="42.6" fill="#ff0335"/>
<rect x="610.7" y="355.4" width="8" height="16.6" fill="#ff0335"/>
<rect x="624.9" y="382" width="1.4" height="56" fill="#ff0335"/>
<rect x="621.6" y="384" width="8" height="17.6" fill="#ff0335"/>
<rect x="635.8" y="388" width="1.4" height="56.4" fill="#ff0335"/>
<rect x="632.5" y="411" width="8" height="24" fill="#ff0335"/>
<rect x="646.6" y="404" width="1.4" height="37" fill="#009a7c"/>
<rect x="643.3" y="415.4" width="8" height="15" fill="#009a7c"/>
<rect x="657.5" y="374.6" width="1.4" height="49" fill="#009a7c"/>
<rect x="654.2" y="386" width="8" height="37.6" fill="#009a7c"/>
<rect x="668.4" y="365" width="1.4" height="50" fill="#009a7c"/>
<rect x="665.1" y="377.4" width="8" height="9.2" fill="#009a7c"/>
<rect x="679.2" y="370" width="1.4" height="59.6" fill="#009a7c"/>
<rect x="676" y="380" width="8" height="16" fill="#009a7c"/>
<rect x="690.1" y="333.4" width="1.4" height="42.2" fill="#009a7c"/>
<rect x="686.8" y="338" width="8" height="37.6" fill="#009a7c"/>
<rect x="701" y="317.4" width="1.4" height="33" fill="#009a7c"/>
<rect x="697.7" y="324" width="8" height="18.6" fill="#009a7c"/>
<rect x="711.9" y="311.4" width="1.4" height="45.6" fill="#ff0335"/>
<rect x="708.6" y="316.4" width="8" height="38.6" fill="#ff0335"/>
<rect x="722.8" y="336" width="1.4" height="43" fill="#ff0335"/>
<rect x="719.5" y="348" width="8" height="11.6" fill="#ff0335"/>
<rect x="733.6" y="312" width="1.4" height="52.4" fill="#009a7c"/>
<rect x="730.3" y="313" width="8" height="51.4" fill="#009a7c"/>
<rect x="744.5" y="309.4" width="1.4" height="78" fill="#ff0335"/>
<rect x="741.2" y="320" width="8" height="54" fill="#ff0335"/>
<rect x="755.4" y="357" width="1.4" height="54.6" fill="#ff0335"/>
<rect x="752.1" y="361.4" width="8" height="40.2" fill="#ff0335"/>
<rect x="766.2" y="402" width="1.4" height="44.6" fill="#ff0335"/>
<rect x="763" y="407" width="8" height="30.6" fill="#ff0335"/>
<rect x="777.1" y="403" width="1.4" height="38.6" fill="#009a7c"/>
<rect x="773.8" y="435.6" width="8" height="6" fill="#009a7c"/>
<rect x="788" y="388" width="1.4" height="51.6" fill="#ff0335"/>
<rect x="784.7" y="429.6" width="8" height="1.4" fill="#ff0335"/>
<rect x="798.9" y="422" width="1.4" height="85" fill="#ff0335"/>
<rect x="795.6" y="440.4" width="8" height="59.2" fill="#ff0335"/>
<rect x="809.8" y="475.6" width="1.4" height="35" fill="#009a7c"/>
<rect x="806.5" y="485.4" width="8" height="10.6" fill="#009a7c"/>
<rect x="820.6" y="434.6" width="1.4" height="58.4" fill="#009a7c"/>
<rect x="817.3" y="436" width="8" height="57" fill="#009a7c"/>
<rect x="831.5" y="406" width="1.4" height="51" fill="#009a7c"/>
<rect x="828.2" y="418.4" width="8" height="24.2" fill="#009a7c"/>
<rect x="842.4" y="402" width="1.4" height="57.6" fill="#ff0335"/>
<rect x="839.1" y="418.4" width="8" height="12" fill="#ff0335"/>
<rect x="853.2" y="399.4" width="1.4" height="45.2" fill="#009a7c"/>
<rect x="850" y="417.4" width="8" height="7.2" fill="#009a7c"/>
<rect x="864.1" y="411.6" width="1.4" height="64.4" fill="#ff0335"/>
<rect x="860.8" y="412.6" width="8" height="59.8" fill="#ff0335"/>
<rect x="875" y="451.6" width="1.4" height="26.4" fill="#009a7c"/>
<rect x="871.7" y="469" width="8" height="5" fill="#009a7c"/>
<rect x="885.9" y="457" width="1.4" height="54.6" fill="#009a7c"/>
<rect x="882.6" y="461" width="8" height="4.6" fill="#009a7c"/>
<rect x="896.8" y="451" width="1.4" height="40.6" fill="#ff0335"/>
<rect x="893.5" y="458.4" width="8" height="23.2" fill="#ff0335"/>
<rect x="907.6" y="442" width="1.4" height="55" fill="#ff0335"/>
<rect x="904.3" y="478.4" width="8" height="14" fill="#ff0335"/>
<rect x="918.5" y="448" width="1.4" height="51" fill="#009a7c"/>
<rect x="915.2" y="482.4" width="8" height="12.6" fill="#009a7c"/>
<rect x="929.4" y="476.4" width="1.4" height="82.6" fill="#ff0335"/>
<rect x="926.1" y="478" width="8" height="75.4" fill="#ff0335"/>
<rect x="940.2" y="533" width="1.4" height="57.6" fill="#ff0335"/>
<rect x="937" y="543.4" width="8" height="41" fill="#ff0335"/>
<rect x="951.1" y="545" width="1.4" height="44.4" fill="#009a7c"/>
<rect x="947.8" y="564.4" width="8" height="25" fill="#009a7c"/>
<rect x="962" y="515.6" width="1.4" height="77" fill="#009a7c"/>
<rect x="958.7" y="516.6" width="8" height="54" fill="#009a7c"/>
<rect x="972.9" y="508" width="1.4" height="33" fill="#ff0335"/>
<rect x="969.6" y="519.6" width="8" height="8.8" fill="#ff0335"/>
<rect x="983.8" y="512" width="1.4" height="46" fill="#ff0335"/>
<rect x="980.5" y="523.4" width="8" height="32" fill="#ff0335"/>
<rect x="994.6" y="490" width="1.4" height="41.6" fill="#009a7c"/>
<rect x="991.3" y="503.4" width="8" height="24.6" fill="#009a7c"/>
<rect x="1005.5" y="456.4" width="1.4" height="49.2" fill="#009a7c"/>
<rect x="1002.2" y="461.4" width="8" height="44.2" fill="#009a7c"/>
<rect x="1016.4" y="430" width="1.4" height="41.6" fill="#009a7c"/>
<rect x="1013.1" y="435.6" width="8" height="27.4" fill="#009a7c"/>
<rect x="1027.2" y="413.6" width="1.4" height="31" fill="#009a7c"/>
<rect x="1024" y="422.4" width="8" height="9" fill="#009a7c"/>
<rect x="1038.1" y="364" width="1.4" height="63.6" fill="#009a7c"/>
<rect x="1034.8" y="376.6" width="8" height="37.4" fill="#009a7c"/>
<rect x="1049" y="360.4" width="1.4" height="44.2" fill="#ff0335"/>
<rect x="1045.7" y="370" width="8" height="27.6" fill="#ff0335"/>
<rect x="1059.9" y="392.6" width="1.4" height="51" fill="#ff0335"/>
<rect x="1056.6" y="394.6" width="8" height="31" fill="#ff0335"/>
<rect x="1070.8" y="416.4" width="1.4" height="49.2" fill="#ff0335"/>
<rect x="1067.5" y="434.6" width="8" height="17.8" fill="#ff0335"/>
<rect x="1081.6" y="418.4" width="1.4" height="54.6" fill="#009a7c"/>
<rect x="1078.3" y="422.4" width="8" height="31.6" fill="#009a7c"/>
<rect x="1092.5" y="414.6" width="1.4" height="58.4" fill="#ff0335"/>
<rect x="1089.2" y="424.4" width="8" height="44.2" fill="#ff0335"/>
<rect x="1103.4" y="443" width="1.4" height="32.6" fill="#009a7c"/>
<rect x="1100.1" y="467" width="8" height="1.6" fill="#009a7c"/>
<rect x="1114.2" y="453.6" width="1.4" height="55" fill="#ff0335"/>
<rect x="1111" y="462.4" width="8" height="35.6" fill="#ff0335"/>
<rect x="1125.1" y="461.4" width="1.4" height="42.2" fill="#009a7c"/>
<rect x="1121.8" y="468" width="8" height="24.4" fill="#009a7c"/>
<rect x="1136" y="438.4" width="1.4" height="37.6" fill="#ff0335"/>
<rect x="1132.7" y="466.4" width="8" height="6" fill="#ff0335"/>
<rect x="1146.9" y="452.6" width="1.4" height="37" fill="#009a7c"/>
<rect x="1143.6" y="462.4" width="8" height="4.2" fill="#009a7c"/>
<rect x="1157.8" y="449" width="1.4" height="47.4" fill="#ff0335"/>
<rect x="1154.5" y="463.4" width="8" height="3.2" fill="#ff0335"/>
<rect x="1168.6" y="445" width="1.4" height="41.6" fill="#009a7c"/>
<rect x="1165.3" y="454.6" width="8" height="9.4" fill="#009a7c"/>
<rect x="1179.5" y="414.6" width="1.4" height="56" fill="#009a7c"/>
<rect x="1176.2" y="421.4" width="8" height="39.2" fill="#009a7c"/>
<rect x="1190.4" y="396.4" width="1.4" height="33.2" fill="#009a7c"/>
<rect x="1187.1" y="404.4" width="8" height="11.6" fill="#009a7c"/>
<rect x="1201.2" y="408.6" width="1.4" height="24.8" fill="#ff0335"/>
<rect x="1198" y="410" width="8" height="14.6" fill="#ff0335"/>
<rect x="1212.1" y="413" width="1.4" height="45" fill="#ff0335"/>
<rect x="1208.8" y="415.4" width="8" height="25.6" fill="#ff0335"/>
<rect x="1223" y="397.4" width="1.4" height="49.2" fill="#009a7c"/>
<rect x="1219.7" y="413.6" width="8" height="28" fill="#009a7c"/>
<rect x="1233.9" y="384.4" width="1.4" height="37.2" fill="#009a7c"/>
<rect x="1230.6" y="388" width="8" height="22.4" fill="#009a7c"/>
<rect x="1244.8" y="392.6" width="1.4" height="28" fill="#ff0335"/>
<rect x="1241.5" y="396.4" width="8" height="15" fill="#ff0335"/>
<rect x="1255.6" y="346.4" width="1.4" height="69.6" fill="#009a7c"/>
<rect x="1252.3" y="348" width="8" height="68" fill="#009a7c"/>
<rect x="1266.5" y="331.4" width="1.4" height="48.6" fill="#009a7c"/>
<rect x="1263.2" y="357.4" width="8" height="15" fill="#009a7c"/>
<rect x="1277.4" y="353" width="1.4" height="49" fill="#ff0335"/>
<rect x="1274.1" y="356.4" width="8" height="40.6" fill="#ff0335"/>
<rect x="1288.2" y="392.6" width="1.4" height="53" fill="#ff0335"/>
<rect x="1285" y="403" width="8" height="38.6" fill="#ff0335"/>
<rect x="1299.1" y="419.4" width="1.4" height="37.6" fill="#009a7c"/>
<rect x="1295.8" y="431" width="8" height="10.6" fill="#009a7c"/>
<rect x="1310" y="379.4" width="1.4" height="55.6" fill="#009a7c"/>
<rect x="1306.7" y="393.6" width="8" height="41.4" fill="#009a7c"/>
<rect x="1320.9" y="380.4" width="1.4" height="64.2" fill="#ff0335"/>
<rect x="1317.6" y="393.6" width="8" height="43" fill="#ff0335"/>
<rect x="1331.8" y="391.6" width="1.4" height="66.4" fill="#009a7c"/>
<rect x="1328.5" y="418.4" width="8" height="26.2" fill="#009a7c"/>
<rect x="1342.6" y="409" width="1.4" height="46" fill="#ff0335"/>
<rect x="1339.3" y="415.6" width="8" height="22" fill="#ff0335"/>
<rect x="1353.5" y="440.4" width="1.4" height="48.6" fill="#ff0335"/>
<rect x="1350.2" y="441" width="8" height="46" fill="#ff0335"/>
<rect x="1364.4" y="471" width="1.4" height="67" fill="#ff0335"/>
<rect x="1361.1" y="478.4" width="8" height="27" fill="#ff0335"/>
<rect x="1375.2" y="498.6" width="1.4" height="75" fill="#009a7c"/>
<rect x="1372" y="503.6" width="8" height="1.4" fill="#009a7c"/>
<rect x="1386.1" y="472" width="1.4" height="33.6" fill="#009a7c"/>
<rect x="1382.8" y="492.4" width="8" height="8.2" fill="#009a7c"/>
<rect x="1397" y="476.4" width="1.4" height="72.2" fill="#ff0335"/>
<rect x="1393.7" y="490" width="8" height="42.4" fill="#ff0335"/>
<rect x="1407.9" y="504" width="1.4" height="53" fill="#ff0335"/>
<rect x="1404.6" y="539.4" width="8" height="17.6" fill="#ff0335"/>
<rect x="1418.8" y="535" width="1.4" height="62.4" fill="#009a7c"/>
<rect x="1415.5" y="543.4" width="8" height="17.2" fill="#009a7c"/>
<rect x="1429.6" y="507.4" width="1.4" height="49.6" fill="#009a7c"/>
<rect x="1426.3" y="528.6" width="8" height="27" fill="#009a7c"/>
<rect x="1440.5" y="481" width="1.4" height="44.6" fill="#009a7c"/>
<rect x="1437.2" y="492.4" width="8" height="26.2" fill="#009a7c"/>
<rect x="1451.4" y="452.4" width="1.4" height="48.6" fill="#009a7c"/>
<rect x="1448.1" y="485.4" width="8" height="8.6" fill="#009a7c"/>
<rect x="1462.2" y="470" width="1.4" height="36.6" fill="#ff0335"/>
<rect x="1459" y="482" width="8" height="19.6" fill="#ff0335"/>
<rect x="1473.1" y="460" width="1.4" height="89.6" fill="#ff0335"/>
<rect x="1469.8" y="502.4" width="8" height="45.6" fill="#ff0335"/>
<rect x="1484" y="532" width="1.4" height="67.4" fill="#ff0335"/>
<rect x="1480.7" y="541.4" width="8" height="46.2" fill="#ff0335"/>
<rect x="1494.9" y="571" width="1.4" height="51.6" fill="#ff0335"/>
<rect x="1491.6" y="583.4" width="8" height="37.6" fill="#ff0335"/>
<rect x="1505.8" y="575.6" width="1.4" height="59.4" fill="#ff0335"/>
<rect x="1502.5" y="615" width="8" height="16.4" fill="#ff0335"/>
<rect x="1516.6" y="609" width="1.4" height="40" fill="#ff0335"/>
<rect x="1513.3" y="626" width="8" height="11.4" fill="#ff0335"/>
<rect x="1527.5" y="594" width="1.4" height="53.6" fill="#009a7c"/>
<rect x="1524.2" y="605" width="8" height="19.6" fill="#009a7c"/>
<rect x="1538.4" y="558.6" width="1.4" height="45.4" fill="#009a7c"/>
<rect x="1535.1" y="572" width="8" height="31" fill="#009a7c"/>
<rect x="1549.2" y="536.6" width="1.4" height="42.4" fill="#009a7c"/>
<rect x="1546" y="543.4" width="8" height="33" fill="#009a7c"/>
<rect x="1560.1" y="535.6" width="1.4" height="36.8" fill="#ff0335"/>
<rect x="1556.8" y="542.4" width="8" height="19.2" fill="#ff0335"/>
<rect x="1571" y="555.4" width="1.4" height="47.6" fill="#ff0335"/>
<rect x="1567.7" y="558.4" width="8" height="29.2" fill="#ff0335"/>
<rect x="1581.9" y="554" width="1.4" height="39.6" fill="#009a7c"/>
<rect x="1578.6" y="573" width="8" height="11.6" fill="#009a7c"/>
<rect x="1592.8" y="549" width="1.4" height="38" fill="#009a7c"/>
<rect x="1589.5" y="560.4" width="8" height="7.2" fill="#009a7c"/>
<rect x="1603.6" y="524" width="1.4" height="41.6" fill="#009a7c"/>
<rect x="1600.3" y="528.6" width="8" height="35.4" fill="#009a7c"/>
<rect x="1614.5" y="504" width="1.4" height="44" fill="#ff0335"/>
<rect x="1611.2" y="526.4" width="8" height="14.2" fill="#ff0335"/>
<rect x="1625.4" y="497.4" width="1.4" height="36" fill="#009a7c"/>
<rect x="1622.1" y="509.4" width="8" height="21.2" fill="#009a7c"/>
<rect x="1636.2" y="491" width="1.4" height="13.6" fill="#009a7c"/>
<rect x="1633" y="491.6" width="8" height="13" fill="#009a7c"/>
<line x1="1636" y1="450.6" x2="1701" y2="450.6" stroke="#1c5cf5" stroke-width="1.6"/>
<line x1="1636" y1="487.8" x2="1701" y2="487.8" stroke="#1c5cf5" stroke-width="1.6"/>
<line x1="1636" y1="526" x2="1701" y2="526" stroke="#1c5cf5" stroke-width="1.6"/>
</g>
<g clip-path="url(#cpMacd)">
<rect x="196.3" y="825.6" width="9.6" height="8" fill="#fb0022"/>
<rect x="207.2" y="825.6" width="9.6" height="11.8" fill="#fb0022"/>
<rect x="218.1" y="825.6" width="9.6" height="15.8" fill="#fb0022"/>
<rect x="229" y="825.6" width="9.6" height="20.4" fill="#fb0022"/>
<rect x="239.8" y="825.6" width="9.6" height="21.4" fill="#fb0022"/>
<rect x="250.7" y="825.6" width="9.6" height="19.4" fill="#fb0022"/>
<rect x="261.6" y="825.6" width="9.6" height="16" fill="#fb0022"/>
<rect x="272.5" y="825.6" width="9.6" height="13.8" fill="#fb0022"/>
<rect x="283.3" y="825.6" width="9.6" height="15" fill="#fb0022"/>
<rect x="294.2" y="825.6" width="9.6" height="13.8" fill="#fb0022"/>
<rect x="305.1" y="825.6" width="9.6" height="20.4" fill="#fb0022"/>
<rect x="316" y="825.6" width="9.6" height="24" fill="#fb0022"/>
<rect x="326.8" y="825.6" width="9.6" height="22.4" fill="#fb0022"/>
<rect x="337.7" y="825.6" width="9.6" height="17.4" fill="#fb0022"/>
<rect x="348.6" y="825.6" width="9.6" height="13" fill="#fb0022"/>
<rect x="359.5" y="825.6" width="9.6" height="15" fill="#fb0022"/>
<rect x="370.3" y="825.6" width="9.6" height="13.8" fill="#fb0022"/>
<rect x="381.2" y="825.6" width="9.6" height="13.8" fill="#fb0022"/>
<rect x="392.1" y="825.6" width="9.6" height="12" fill="#fb0022"/>
<rect x="403" y="825.6" width="9.6" height="6" fill="#fb0022"/>
<rect x="413.8" y="825.6" width="9.6" height="1.4" fill="#fb0022"/>
<rect x="424.7" y="822.6" width="9.6" height="3.4" fill="#007d00"/>
<rect x="435.6" y="821.6" width="9.6" height="4.4" fill="#007d00"/>
<rect x="446.5" y="822.6" width="9.6" height="3.4" fill="#007d00"/>
<rect x="457.3" y="820.6" width="9.6" height="5.4" fill="#007d00"/>
<rect x="468.2" y="820" width="9.6" height="6" fill="#007d00"/>
<rect x="479.1" y="817" width="9.6" height="9" fill="#007d00"/>
<rect x="490" y="816" width="9.6" height="10" fill="#007d00"/>
<rect x="500.8" y="814" width="9.6" height="12" fill="#007d00"/>
<rect x="511.7" y="816" width="9.6" height="10" fill="#007d00"/>
<rect x="522.6" y="816" width="9.6" height="10" fill="#007d00"/>
<rect x="533.5" y="819" width="9.6" height="7" fill="#007d00"/>
<rect x="544.4" y="822.6" width="9.6" height="3.4" fill="#007d00"/>
<rect x="555.2" y="825.6" width="9.6" height="1" fill="#fb0022"/>
<rect x="566.1" y="824.4" width="9.6" height="1.6" fill="#007d00"/>
<rect x="577" y="824.4" width="9.6" height="1.6" fill="#007d00"/>
<rect x="587.9" y="822.6" width="9.6" height="3.4" fill="#007d00"/>
<rect x="598.7" y="819.6" width="9.6" height="6.4" fill="#007d00"/>
<rect x="609.6" y="818.6" width="9.6" height="7.4" fill="#007d00"/>
<rect x="620.5" y="820.6" width="9.6" height="5.4" fill="#007d00"/>
<rect x="631.4" y="823.4" width="9.6" height="2.6" fill="#007d00"/>
<rect x="642.2" y="824.4" width="9.6" height="1.6" fill="#007d00"/>
<rect x="653.1" y="823.4" width="9.6" height="2.6" fill="#007d00"/>
<rect x="664" y="821.6" width="9.6" height="4.4" fill="#007d00"/>
<rect x="674.9" y="820.6" width="9.6" height="5.4" fill="#007d00"/>
<rect x="685.7" y="818" width="9.6" height="8" fill="#007d00"/>
<rect x="696.6" y="816" width="9.6" height="10" fill="#007d00"/>
<rect x="707.5" y="817" width="9.6" height="9" fill="#007d00"/>
<rect x="718.4" y="818" width="9.6" height="8" fill="#007d00"/>
<rect x="729.2" y="816" width="9.6" height="10" fill="#007d00"/>
<rect x="740.1" y="819" width="9.6" height="7" fill="#007d00"/>
<rect x="751" y="822.6" width="9.6" height="3.4" fill="#007d00"/>
<rect x="761.9" y="825.6" width="9.6" height="2.4" fill="#fb0022"/>
<rect x="772.7" y="825.6" width="9.6" height="5.4" fill="#fb0022"/>
<rect x="783.6" y="825.6" width="9.6" height="6.4" fill="#fb0022"/>
<rect x="794.5" y="825.6" width="9.6" height="11" fill="#fb0022"/>
<rect x="805.4" y="825.6" width="9.6" height="12" fill="#fb0022"/>
<rect x="816.2" y="825.6" width="9.6" height="9" fill="#fb0022"/>
<rect x="827.1" y="825.6" width="9.6" height="6" fill="#fb0022"/>
<rect x="838" y="825.6" width="9.6" height="4.4" fill="#fb0022"/>
<rect x="848.9" y="825.6" width="9.6" height="1.4" fill="#fb0022"/>
<rect x="859.7" y="825.6" width="9.6" height="3.4" fill="#fb0022"/>
<rect x="870.6" y="825.6" width="9.6" height="3.4" fill="#fb0022"/>
<rect x="881.5" y="825.6" width="9.6" height="3.4" fill="#fb0022"/>
<rect x="892.4" y="825.6" width="9.6" height="4.4" fill="#fb0022"/>
<rect x="903.2" y="825.6" width="9.6" height="4.4" fill="#fb0022"/>
<rect x="914.1" y="825.6" width="9.6" height="4.4" fill="#fb0022"/>
<rect x="925" y="825.6" width="9.6" height="7.4" fill="#fb0022"/>
<rect x="935.9" y="825.6" width="9.6" height="11" fill="#fb0022"/>
<rect x="946.7" y="825.6" width="9.6" height="11" fill="#fb0022"/>
<rect x="957.6" y="825.6" width="9.6" height="7.4" fill="#fb0022"/>
<rect x="968.5" y="825.6" width="9.6" height="5" fill="#fb0022"/>
<rect x="979.4" y="825.6" width="9.6" height="5.4" fill="#fb0022"/>
<rect x="990.2" y="825.6" width="9.6" height="1" fill="#fb0022"/>
<rect x="1001.1" y="820.6" width="9.6" height="5.4" fill="#007d00"/>
<rect x="1012" y="816" width="9.6" height="10" fill="#007d00"/>
<rect x="1022.9" y="812" width="9.6" height="14" fill="#007d00"/>
<rect x="1033.7" y="807" width="9.6" height="19" fill="#007d00"/>
<rect x="1044.6" y="806" width="9.6" height="20" fill="#007d00"/>
<rect x="1055.5" y="808" width="9.6" height="18" fill="#007d00"/>
<rect x="1066.4" y="812" width="9.6" height="14" fill="#007d00"/>
<rect x="1077.2" y="813" width="9.6" height="13" fill="#007d00"/>
<rect x="1088.1" y="817" width="9.6" height="9" fill="#007d00"/>
<rect x="1099" y="819.6" width="9.6" height="6.4" fill="#007d00"/>
<rect x="1109.9" y="823.4" width="9.6" height="2.6" fill="#007d00"/>
<rect x="1120.7" y="824.4" width="9.6" height="1.6" fill="#007d00"/>
<rect x="1131.6" y="825.6" width="9.6" height="1" fill="#fb0022"/>
<rect x="1142.5" y="824.4" width="9.6" height="1.6" fill="#007d00"/>
<rect x="1153.4" y="825" width="9.6" height="1.4" fill="#007d00"/>
<rect x="1164.2" y="824.4" width="9.6" height="1.6" fill="#007d00"/>
<rect x="1175.1" y="821.6" width="9.6" height="4.4" fill="#007d00"/>
<rect x="1186" y="819.6" width="9.6" height="6.4" fill="#007d00"/>
<rect x="1196.9" y="819.6" width="9.6" height="6.4" fill="#007d00"/>
<rect x="1207.7" y="820.6" width="9.6" height="5.4" fill="#007d00"/>
<rect x="1218.6" y="820.6" width="9.6" height="5.4" fill="#007d00"/>
<rect x="1229.5" y="819" width="9.6" height="7" fill="#007d00"/>
<rect x="1240.4" y="819.6" width="9.6" height="6.4" fill="#007d00"/>
<rect x="1251.2" y="817" width="9.6" height="9" fill="#007d00"/>
<rect x="1262.1" y="816" width="9.6" height="10" fill="#007d00"/>
<rect x="1273" y="818" width="9.6" height="8" fill="#007d00"/>
<rect x="1283.9" y="822.6" width="9.6" height="3.4" fill="#007d00"/>
<rect x="1294.7" y="825.6" width="9.6" height="1" fill="#fb0022"/>
<rect x="1305.6" y="824.4" width="9.6" height="1.6" fill="#007d00"/>
<rect x="1316.5" y="825.6" width="9.6" height="2.4" fill="#fb0022"/>
<rect x="1327.4" y="825.6" width="9.6" height="2.4" fill="#fb0022"/>
<rect x="1338.2" y="825.6" width="9.6" height="4.4" fill="#fb0022"/>
<rect x="1349.1" y="825.6" width="9.6" height="8.4" fill="#fb0022"/>
<rect x="1360" y="825.6" width="9.6" height="11.4" fill="#fb0022"/>
<rect x="1370.9" y="825.6" width="9.6" height="12.4" fill="#fb0022"/>
<rect x="1381.7" y="825.6" width="9.6" height="11.8" fill="#fb0022"/>
<rect x="1392.6" y="825.6" width="9.6" height="13" fill="#fb0022"/>
<rect x="1403.5" y="825.6" width="9.6" height="15" fill="#fb0022"/>
<rect x="1414.4" y="825.6" width="9.6" height="14.2" fill="#fb0022"/>
<rect x="1425.2" y="825.6" width="9.6" height="12.2" fill="#fb0022"/>
<rect x="1436.1" y="825.6" width="9.6" height="8" fill="#fb0022"/>
<rect x="1447" y="825.6" width="9.6" height="4.2" fill="#fb0022"/>
<rect x="1457.9" y="825.6" width="9.6" height="2.2" fill="#fb0022"/>
<rect x="1468.7" y="825.6" width="9.6" height="4.2" fill="#fb0022"/>
<rect x="1479.6" y="825.6" width="9.6" height="7.2" fill="#fb0022"/>
<rect x="1490.5" y="825.6" width="9.6" height="10" fill="#fb0022"/>
<rect x="1501.4" y="825.6" width="9.6" height="12.2" fill="#fb0022"/>
<rect x="1512.2" y="825.6" width="9.6" height="13" fill="#fb0022"/>
<rect x="1523.1" y="825.6" width="9.6" height="10" fill="#fb0022"/>
<rect x="1534" y="825.6" width="9.6" height="6.2" fill="#fb0022"/>
<rect x="1544.9" y="825.6" width="9.6" height="1.2" fill="#fb0022"/>
<rect x="1555.7" y="823.1" width="9.6" height="2.9" fill="#007d00"/>
<rect x="1566.6" y="823.1" width="9.6" height="2.9" fill="#007d00"/>
<rect x="1577.5" y="822.4" width="9.6" height="3.6" fill="#007d00"/>
<rect x="1588.4" y="820.6" width="9.6" height="5.4" fill="#007d00"/>
<rect x="1599.2" y="817.9" width="9.6" height="8.2" fill="#007d00"/>
<rect x="1610.1" y="816.9" width="9.6" height="9.2" fill="#007d00"/>
<rect x="1621" y="813.6" width="9.6" height="12.4" fill="#007d00"/>
<rect x="1631.9" y="811.9" width="9.6" height="14.2" fill="#007d00"/>
<polyline points="197,792.4 212,802 222.6,809.6 233.6,820 244.4,826 255.2,829.4 266,828.6 277,831 288,836 298.8,838 309.6,847 320,859 331,863 342,862.6 353,861.4 364,867 375,870 385.6,873.4 396.6,874 407.6,869.6 418.4,865 429.2,860.6 440,859.4 450.8,858.6 461.6,856 472.6,854 483.4,850 494.2,846.4 505.2,841.4 516,840.6 526.8,838.6 537.8,840 548.6,843.4 559.4,845.6 570.4,844.6 581.8,845 592.8,841.6 603.6,837.4 614.4,835.4 625.4,836.4 636.2,839 647.2,839.4 658,837.4 668.8,835.4 679.8,833.6 690.6,829.4 701.4,824.6 712.4,823.4 723.2,822.4 734.2,819 745,820 755.8,823 766.8,828.6 777.6,832.4 788.4,835 799.4,841.6 810.2,846.4 821,846 832,844 842.8,843 853.6,841 864.6,843.6 875.4,845 886.4,845.6 897.2,847 908,848.4 919,849 929.8,854.6 940.6,861 951.6,863.6 962.4,861.6 973.2,861 984.2,861.6 995.2,857 1006,851 1016.8,844 1027.8,837 1038.6,828 1049.4,823 1060.4,821 1071.2,821 1082,819.4 1093,821 1103.8,824 1114.8,826 1125.6,826.4 1136.4,826 1147.4,827 1158.2,826.6 1169,825.4 1180,823 1190.8,820 1201.6,818.6 1212.6,818 1223.4,816.4 1234.2,813.6 1245.2,813 1256,808 1267,804.4 1277.8,805.6 1288.6,809.6 1299.6,812 1310.4,812 1321.2,815 1332.2,816.4 1343,819 1353.8,825 1364.8,831.6 1375.6,835 1386.5,837 1397.5,842.5 1408.2,846.2 1419.2,849.5 1430,850.5 1441,847.5 1451.8,845 1462.8,844.5 1473.5,848 1484.5,853.8 1495.2,859.5 1506.2,863.8 1517,866.2 1528,866.2 1538.8,863.8 1549.8,858.8 1560.5,855.8 1571.5,855 1582.2,853.2 1593.2,850.5 1604,845.5 1615,842.5 1625.8,837.5 1636.8,832.5" fill="none" stroke="#3dbdb6" stroke-width="1.2" stroke-linejoin="round"/>
<polyline points="197,786.4 212,791 222.6,795 233.6,800 244.4,805 255.2,809.4 266,813 277,816.4 288,820 298.8,823.4 309.6,828.6 320,834.6 331,840 342,845 353,848 364,852 375,856 385.6,860 396.6,862.6 407.6,864 418.4,864 429.2,863.4 440,862.6 450.8,861.6 461.6,860.4 472.6,859 483.4,857 494.2,854.6 505.2,852 516,849.6 526.8,847.6 537.8,846.4 548.6,845.6 559.4,845.6 570.4,845.4 581.8,845.6 592.8,844.6 603.6,843 614.4,841.6 625.4,840.6 636.2,840 647.2,840 658,839.6 668.8,838.6 679.8,837.6 690.6,836 701.4,833.6 712.4,831.6 723.2,829.6 734.2,827.6 745,826 755.8,825.4 766.8,826 777.6,827.4 788.4,829 799.4,831.4 810.2,834.6 821,836.6 832,838 842.8,839 853.6,839.4 864.6,840.4 875.4,841.4 886.4,842 897.2,843 908,844 919,845 929.8,847 940.6,850 951.6,852.6 962.4,854.4 973.2,855.6 984.2,857 995.2,857.4 1006,856 1016.8,853.6 1027.8,850 1038.6,845.6 1049.4,841 1060.4,837 1071.2,833.6 1082,830.6 1093,829 1103.8,828 1114.8,827.6 1125.6,827.4 1136.4,827.4 1147.4,827.6 1158.2,827.4 1169,827 1180,825.6 1190.8,824.4 1201.6,823.4 1212.6,822.4 1223.4,821 1234.2,819.6 1245.2,818.6 1256,816.6 1267,814 1277.8,812.6 1288.6,812 1299.6,812 1310.4,812 1321.2,812.6 1332.2,813.4 1343,814.4 1353.8,816.6 1364.8,819.4 1375.6,822.4 1386.5,825 1397.5,828.8 1408.2,832.5 1419.2,836.2 1430,839.5 1441,841.2 1451.8,842 1462.8,843 1473.5,844.5 1484.5,847 1495.2,850.5 1506.2,853.2 1517,855.8 1528,857.5 1538.8,857.8 1549.8,857.5 1560.5,857 1571.5,857 1582.2,856.2 1593.2,855 1604,853 1615,850.8 1625.8,848.2 1636.8,845.5" fill="none" stroke="#c7245e" stroke-width="1.2" stroke-linejoin="round"/>
</g>
<rect x="197" y="896.4" width="1599" height="90.6" fill="#e2f0f1"/>
<line x1="299.6" y1="896.4" x2="299.6" y2="987" stroke="#d3e3e5" stroke-width="1"/>
<line x1="408" y1="896.4" x2="408" y2="987" stroke="#d3e3e5" stroke-width="1"/>
<line x1="516.6" y1="896.4" x2="516.6" y2="987" stroke="#d3e3e5" stroke-width="1"/>
<line x1="626" y1="896.4" x2="626" y2="987" stroke="#d3e3e5" stroke-width="1"/>
<line x1="766.8" y1="896.4" x2="766.8" y2="987" stroke="#d3e3e5" stroke-width="1"/>
<line x1="886.8" y1="896.4" x2="886.8" y2="987" stroke="#d3e3e5" stroke-width="1"/>
<line x1="995.2" y1="896.4" x2="995.2" y2="987" stroke="#d3e3e5" stroke-width="1"/>
<line x1="1103.6" y1="896.4" x2="1103.6" y2="987" stroke="#d3e3e5" stroke-width="1"/>
<line x1="1223.4" y1="896.4" x2="1223.4" y2="987" stroke="#d3e3e5" stroke-width="1"/>
<line x1="1321.4" y1="896.4" x2="1321.4" y2="987" stroke="#d3e3e5" stroke-width="1"/>
<line x1="1451.6" y1="896.4" x2="1451.6" y2="987" stroke="#d3e3e5" stroke-width="1"/>
<line x1="1582.4" y1="896.4" x2="1582.4" y2="987" stroke="#d3e3e5" stroke-width="1"/>
<line x1="1680.4" y1="896.4" x2="1680.4" y2="987" stroke="#d3e3e5" stroke-width="1"/>
<line x1="1778" y1="896.4" x2="1778" y2="987" stroke="#d3e3e5" stroke-width="1"/>
<line x1="197" y1="918.7" x2="1796" y2="918.7" stroke="#d6e5e7" stroke-width="1"/>
<line x1="197" y1="964" x2="1796" y2="964" stroke="#d6e5e7" stroke-width="1"/>
<line x1="197" y1="896.4" x2="1796" y2="896.4" stroke="#6b7480" stroke-width="1" stroke-dasharray="6.5 6.5"/>
<line x1="197" y1="941.6" x2="1796" y2="941.6" stroke="#a9b4bd" stroke-width="1" stroke-dasharray="6.5 6.5"/>
<line x1="197" y1="987" x2="1796" y2="987" stroke="#8d97a3" stroke-width="1.6" stroke-dasharray="6.5 6.5"/>
<g clip-path="url(#cpRsi)"><polyline points="197,937 201.2,952.4 212,946.4 222.6,958 233.6,971 244.4,962 255.2,954 266,941 277,949.4 288,963 298.8,955.6 309.6,980.4 320,983 331,967.4 342,957.6 353,955.6 364,972.6 375,968.4 385.6,972.4 396.6,967.4 407.6,951 418.4,948.6 429.2,947.6 440,955 450.8,958.4 461.6,949.4 472.6,952.4 483.4,941.4 494.2,943.6 505.2,935 516,948.4 526.8,943 537.8,953.6 548.6,962.6 559.4,961 570.4,950.4 581.8,951 592.8,943.4 603.6,934.4 614.4,942.4 625.4,950.6 636.2,959.4 647.2,951.6 658,942.6 668.8,940 679.8,940.6 690.6,927.6 701.4,923.4 712.4,934.6 723.2,936.4 734.2,922.4 745,943 755.8,950.6 766.8,960.6 777.6,959.6 788.4,957.6 799.4,974.4 810.2,968.6 821,952 832,946 842.8,949.4 853.6,945 864.6,960.6 875.4,959.6 886.4,956.6 897.2,962 908,965.4 919,961 929.8,979 940.6,985.6 951.6,976.4 962.4,958.4 973.2,961.4 984.2,968 995.2,950 1006,936.6 1016.8,930 1027.8,926.4 1038.6,915.4 1049.4,922.4 1060.4,931.4 1071.2,940 1082,932 1093,945 1103.8,945 1114.8,953.4 1125.6,944 1136.4,945 1147.4,941.6 1158.2,943 1169,938.6 1180,927.4 1190.8,922.4 1201.6,930.4 1212.6,936.6 1223.4,928 1234.2,919.6 1245.2,929 1256,911.4 1267,915.4 1277.8,930 1288.6,945.4 1299.6,942 1310.4,930.4 1321.2,944 1332.2,938.6 1343,944.4 1353.8,958 1364.8,963 1375.6,962.4 1386.5,957.5 1397.5,968.8 1408.2,974.2 1419.2,968.2 1430,962 1441,948.2 1451.8,945.8 1462.8,951.8 1473.5,965 1484.5,975 1495.2,982 1506.2,983.8 1517,985.5 1528,969.5 1538.8,957 1549.8,946.8 1560.5,952.5 1571.5,960 1582.2,954.2 1593.2,949.2 1604,938 1615,942 1625.8,931.2 1636.8,925.8" fill="none" stroke="#cf2a5f" stroke-width="1.2" stroke-linejoin="round"/></g>
<g font-family="'Liberation Sans','DejaVu Sans',sans-serif" font-size="11">
<text transform="translate(1808,750.7) scale(1.23,1)" fill="#40444f" stroke="#40444f" stroke-width="0.25">64.00</text>
<text transform="translate(1808,720.2) scale(1.23,1)" fill="#40444f" stroke="#40444f" stroke-width="0.25">66.00</text>
<text transform="translate(1808,689.8) scale(1.23,1)" fill="#40444f" stroke="#40444f" stroke-width="0.25">68.00</text>
<text transform="translate(1808,659.3) scale(1.23,1)" fill="#40444f" stroke="#40444f" stroke-width="0.25">70.00</text>
<text transform="translate(1808,628.8) scale(1.23,1)" fill="#40444f" stroke="#40444f" stroke-width="0.25">72.00</text>
<text transform="translate(1808,598.4) scale(1.23,1)" fill="#40444f" stroke="#40444f" stroke-width="0.25">74.00</text>
<text transform="translate(1808,567.9) scale(1.23,1)" fill="#40444f" stroke="#40444f" stroke-width="0.25">76.00</text>
<text transform="translate(1808,537.4) scale(1.23,1)" fill="#40444f" stroke="#40444f" stroke-width="0.25">78.00</text>
<text transform="translate(1808,507) scale(1.23,1)" fill="#40444f" stroke="#40444f" stroke-width="0.25">80.00</text>
<text transform="translate(1808,476.5) scale(1.23,1)" fill="#40444f" stroke="#40444f" stroke-width="0.25">82.00</text>
<text transform="translate(1808,446) scale(1.23,1)" fill="#40444f" stroke="#40444f" stroke-width="0.25">84.00</text>
<text transform="translate(1808,415.6) scale(1.23,1)" fill="#40444f" stroke="#40444f" stroke-width="0.25">86.00</text>
<text transform="translate(1808,385.1) scale(1.23,1)" fill="#40444f" stroke="#40444f" stroke-width="0.25">88.00</text>
<text transform="translate(1808,354.6) scale(1.23,1)" fill="#40444f" stroke="#40444f" stroke-width="0.25">90.00</text>
<text transform="translate(1808,324.2) scale(1.23,1)" fill="#40444f" stroke="#40444f" stroke-width="0.25">92.00</text>
<text transform="translate(1808,293.7) scale(1.23,1)" fill="#40444f" stroke="#40444f" stroke-width="0.25">94.00</text>
<text transform="translate(1808,800.8) scale(1.23,1)" fill="#40444f" stroke="#40444f" stroke-width="0.25">2.00</text>
<text transform="translate(1808,857.4) scale(1.23,1)" fill="#40444f" stroke="#40444f" stroke-width="0.25">−2.00</text>
<text transform="translate(1808,922.2) scale(1.23,1)" fill="#40444f" stroke="#40444f" stroke-width="0.25">60.00</text>
<text transform="translate(1808,967) scale(1.23,1)" fill="#40444f" stroke="#40444f" stroke-width="0.25">40.00</text>
<text transform="translate(299.6,1012.6) scale(1.23,1)" fill="#40444f" stroke="#40444f" stroke-width="0.25" text-anchor="middle">Tháng 7</text>
<text transform="translate(408,1012.6) scale(1.23,1)" fill="#40444f" stroke="#40444f" stroke-width="0.25" text-anchor="middle">18</text>
<text transform="translate(516.6,1012.6) scale(1.23,1)" fill="#40444f" stroke="#40444f" stroke-width="0.25" text-anchor="middle">Tháng Tám</text>
<text transform="translate(626,1012.6) scale(1.23,1)" fill="#40444f" stroke="#40444f" stroke-width="0.25" text-anchor="middle">15</text>
<text transform="translate(766.8,1012.6) scale(1.23,1)" fill="#40444f" stroke="#40444f" stroke-width="0.25" text-anchor="middle">Tháng 9</text>
<text transform="translate(886.8,1012.6) scale(1.23,1)" fill="#40444f" stroke="#40444f" stroke-width="0.25" text-anchor="middle">19</text>
<text transform="translate(995.2,1012.6) scale(1.23,1)" fill="#40444f" stroke="#40444f" stroke-width="0.25" text-anchor="middle">Tháng 10</text>
<text transform="translate(1103.6,1012.6) scale(1.23,1)" fill="#40444f" stroke="#40444f" stroke-width="0.25" text-anchor="middle">17</text>
<text transform="translate(1223.4,1012.6) scale(1.23,1)" fill="#40444f" stroke="#40444f" stroke-width="0.25" text-anchor="middle">Tháng 11</text>
<text transform="translate(1321.4,1012.6) scale(1.23,1)" fill="#40444f" stroke="#40444f" stroke-width="0.25" text-anchor="middle">14</text>
<text transform="translate(1451.6,1012.6) scale(1.23,1)" fill="#40444f" stroke="#40444f" stroke-width="0.25" text-anchor="middle">Tháng Mười hai</text>
<text transform="translate(1582.4,1012.6) scale(1.23,1)" fill="#40444f" stroke="#40444f" stroke-width="0.25" text-anchor="middle">19</text>
<text transform="translate(1778,1012.6) scale(1.23,1)" fill="#40444f" stroke="#40444f" stroke-width="0.25" text-anchor="middle">17</text>
<text transform="translate(1680.4,1012.6) scale(1.23,1)" fill="#2a2e39" stroke="#2a2e39" stroke-width="0.1" text-anchor="middle" font-weight="bold">2023</text>
<text transform="translate(206,283.4) scale(1.23,1)" fill="#484c58" stroke="#484c58" stroke-width="0.25" textLength="222" lengthAdjust="spacingAndGlyphs">CRUDE OIL FUTURES (FEB 2023), 1D, NYMEX</text>
<text transform="translate(206,299.6) scale(1.23,1)" fill="#484c58" stroke="#484c58" stroke-width="0.25" textLength="55.3" lengthAdjust="spacingAndGlyphs">Khối lượng</text>
<text transform="translate(283.8,299.6) scale(1.23,1)" fill="#26a69a" stroke="#26a69a" stroke-width="0.5">3.916K</text>
<text transform="translate(206,315.4) scale(1.23,1)" fill="#484c58" stroke="#484c58" stroke-width="0.25" textLength="12.2" lengthAdjust="spacingAndGlyphs">BB</text>
<text transform="translate(231.5,315.4) scale(1.23,1)" fill="#22869c" stroke="#22869c" stroke-width="0.5">76.55</text>
<text transform="translate(273,315.4) scale(1.23,1)" fill="#f4274f" stroke="#f4274f" stroke-width="0.5">82.52</text>
<text transform="translate(317.2,315.4) scale(1.23,1)" fill="#1f9c1f" stroke="#1f9c1f" stroke-width="0.5">70.58</text>
<text transform="translate(206,794.6) scale(1.23,1)" fill="#484c58" stroke="#484c58" stroke-width="0.25" textLength="28.1" lengthAdjust="spacingAndGlyphs">MACD</text>
<text transform="translate(249.6,794.6) scale(1.23,1)" fill="#1f9c1f" stroke="#1f9c1f" stroke-width="0.35">0.90</text>
<text transform="translate(285.6,794.6) scale(1.23,1)" fill="#26a69a" stroke="#26a69a" stroke-width="0.35">−0.54</text>
<text transform="translate(329,794.6) scale(1.23,1)" fill="#c7245e" stroke="#c7245e" stroke-width="0.35">−1.44</text>
<text transform="translate(206,902.6) scale(1.23,1)" fill="#484c58" stroke="#484c58" stroke-width="0.25" textLength="15.4" lengthAdjust="spacingAndGlyphs">RSI</text>
<text transform="translate(233.6,902.6) scale(1.23,1)" fill="#cf2a5f" stroke="#cf2a5f" stroke-width="0.35">56.71</text>
<text transform="translate(1711,445) scale(1.23,1)" fill="#2c68f6" stroke="#2c68f6" stroke-width="0.35">0.618(83.37)</text>
<text transform="translate(1711,482) scale(1.23,1)" fill="#2c68f6" stroke="#2c68f6" stroke-width="0.35">0.5(80.92)</text>
<text transform="translate(1711,520) scale(1.23,1)" fill="#2c68f6" stroke="#2c68f6" stroke-width="0.35">0.382(78.48)</text>
<rect x="1796" y="456.5" width="54" height="16.2" fill="#fb0027"/>
<text transform="translate(1823,468.6) scale(1.23,1)" fill="#ffffff" stroke="#ffffff" stroke-width="0" text-anchor="middle" font-weight="bold">82.52</text>
<rect x="1796" y="484.2" width="54" height="16.2" fill="#009a7c"/>
<text transform="translate(1823,496.3) scale(1.23,1)" fill="#ffffff" stroke="#ffffff" stroke-width="0" text-anchor="middle" font-weight="bold">80.70</text>
<rect x="1796" y="520.3" width="54" height="16.2" fill="#007f00"/>
<text transform="translate(1823,532.4) scale(1.23,1)" fill="#ffffff" stroke="#ffffff" stroke-width="0" text-anchor="middle" font-weight="bold">78.33</text>
<rect x="1796" y="548" width="54" height="16.2" fill="#007f00"/>
<text transform="translate(1823,560.1) scale(1.23,1)" fill="#ffffff" stroke="#ffffff" stroke-width="0" text-anchor="middle" font-weight="bold">76.52</text>
</g>
</g>
<text x="1957" y="1096" text-anchor="end" font-family="'Liberation Sans',sans-serif" font-size="29" font-weight="bold" font-style="italic" fill="#ffffff" id="footer">Nguồn: Sở Giao dịch Hàng hóa Việt Nam (MXV)</text>
</svg></body></html>
